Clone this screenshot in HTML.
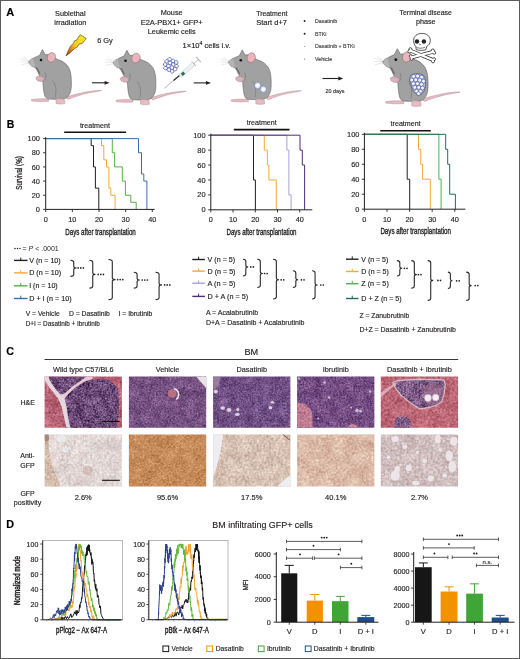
<!DOCTYPE html>
<html><head><meta charset="utf-8"><style>
html,body{margin:0;padding:0;background:#fff;}
svg{display:block;font-family:"Liberation Sans", sans-serif;will-change:transform;}
</style></head><body>
<svg width="520" height="659" viewBox="0 0 520 659">
<rect x="0.5" y="0.5" width="519" height="658" fill="#fff" stroke="#5a5a5a" stroke-width="1"/>
<text x="6.3" y="15.6" font-size="11" text-anchor="start" fill="#000" font-weight="bold" stroke="#000" stroke-width="0.15" >A</text>
<text x="6.7" y="127.8" font-size="10.5" text-anchor="start" fill="#000" font-weight="bold" stroke="#000" stroke-width="0.15" >B</text>
<text x="6.2" y="354.6" font-size="10.8" text-anchor="start" fill="#000" font-weight="bold" stroke="#000" stroke-width="0.15" >C</text>
<text x="6.2" y="528" font-size="10.8" text-anchor="start" fill="#000" font-weight="bold" stroke="#000" stroke-width="0.15" >D</text>
<text x="70.3" y="16" font-size="7.3" text-anchor="middle" fill="#1e1e1e" font-weight="normal" stroke="#1e1e1e" stroke-width="0.15" >Sublethal</text>
<text x="70.3" y="25" font-size="7.3" text-anchor="middle" fill="#1e1e1e" font-weight="normal" stroke="#1e1e1e" stroke-width="0.15" >irradiation</text>
<text x="97.2" y="43.3" font-size="7.4" text-anchor="start" fill="#1e1e1e" font-weight="normal" stroke="#1e1e1e" stroke-width="0.15" >6 Gy</text>
<text x="171.7" y="15.2" font-size="7.3" text-anchor="middle" fill="#1e1e1e" font-weight="normal" stroke="#1e1e1e" stroke-width="0.15" >Mouse</text>
<text x="171.7" y="24.6" font-size="7.3" text-anchor="middle" fill="#1e1e1e" font-weight="normal" textLength="62" lengthAdjust="spacingAndGlyphs" stroke="#1e1e1e" stroke-width="0.15" >E2A-PBX1+ GFP+</text>
<text x="171.7" y="33.8" font-size="7.3" text-anchor="middle" fill="#1e1e1e" font-weight="normal" stroke="#1e1e1e" stroke-width="0.15" >Leukemic cells</text>
<text x="182.6" y="48" font-size="7.5" fill="#1e1e1e" stroke="#1e1e1e" stroke-width="0.15">1×10<tspan dy="-2.8" font-size="5.2">4</tspan><tspan dy="2.8"> cells i.v.</tspan></text>
<text x="256.2" y="15.7" font-size="7.3" text-anchor="start" fill="#1e1e1e" font-weight="normal" textLength="31.2" lengthAdjust="spacingAndGlyphs" stroke="#1e1e1e" stroke-width="0.15" >Treatment</text>
<text x="256.2" y="24.9" font-size="7.3" text-anchor="start" fill="#1e1e1e" font-weight="normal" textLength="30.8" lengthAdjust="spacingAndGlyphs" stroke="#1e1e1e" stroke-width="0.15" >Start d+7</text>
<circle cx="304.6" cy="21" r="1.0" fill="#222"/>
<text x="315" y="22.9" font-size="5.3" text-anchor="start" fill="#444" font-weight="normal" stroke="#444" stroke-width="0.15" >Dasatinib</text>
<circle cx="304.6" cy="33.8" r="1.0" fill="#222"/>
<text x="315" y="35.699999999999996" font-size="5.3" text-anchor="start" fill="#444" font-weight="normal" stroke="#444" stroke-width="0.15" >BTKi</text>
<circle cx="304.6" cy="46.5" r="0.6" fill="#888"/>
<text x="315" y="48.4" font-size="5.3" text-anchor="start" fill="#444" font-weight="normal" stroke="#444" stroke-width="0.15" >Dasatinib + BTKi</text>
<circle cx="304.6" cy="59.2" r="0.6" fill="#888"/>
<text x="315" y="61.1" font-size="5.3" text-anchor="start" fill="#444" font-weight="normal" stroke="#444" stroke-width="0.15" >Vehicle</text>
<text x="425.7" y="15" font-size="7.2" text-anchor="middle" fill="#1e1e1e" font-weight="normal" textLength="52.5" lengthAdjust="spacingAndGlyphs" stroke="#1e1e1e" stroke-width="0.15" >Terminal disease</text>
<text x="425.7" y="24.2" font-size="7.2" text-anchor="middle" fill="#1e1e1e" font-weight="normal" stroke="#1e1e1e" stroke-width="0.15" >phase</text>
<text x="335" y="93.1" font-size="5.4" text-anchor="middle" fill="#333" font-weight="normal" stroke="#333" stroke-width="0.15" >20 days</text>
<line x1="91.9" y1="82.8" x2="105.6" y2="82.8" stroke="#222" stroke-width="1.1"/>
<path d="M104.6,80.89999999999999 L109.6,82.8 L104.6,84.7 Z" fill="#222"/>
<line x1="193.8" y1="82.9" x2="207" y2="82.9" stroke="#222" stroke-width="1.1"/>
<path d="M206,81.0 L211,82.9 L206,84.80000000000001 Z" fill="#222"/>
<line x1="322.5" y1="78.5" x2="339.3" y2="78.5" stroke="#222" stroke-width="1.1"/>
<path d="M338.3,76.6 L343.3,78.5 L338.3,80.4 Z" fill="#222"/>
<defs><g id="mouse">
<g>
 <path d="M66,97.2 C72,95.2 80,93 88,91.6 C94,90.7 99,90.3 101.6,90.5 C99,91.3 93,92.1 87,93.3 C80,94.9 73,97.4 68.3,99.4 Z" fill="#e6bcc4" stroke="#b08890" stroke-width="0.45"/>
 <path d="M31.5,99.6 C37,98.6 44,98.6 48.5,99.2 L48.5,101.3 C43,101.8 36,101.6 31.5,100.9 Z" fill="#e6bcc4" stroke="#b08890" stroke-width="0.45"/>
 <path d="M42.4,49.6 L45.3,54.8 C47,54.2 49,54.5 50.5,55.5 C54,57.5 57.5,59.8 60.9,60.6 C65,62.5 68.5,66 69.8,70 C71.2,74 71.6,80 71.3,87 C71,91.5 69.8,95 66.7,97.8 C63,99.8 58,99.8 55,99.2 C51,99.3 47.5,99.4 45.8,97.6 C44,95.5 43.2,88 43,82.5 C42,81 40.5,78 39,74.5 C38.2,72.5 37,70 35.5,67.8 C34.3,67 33,66.8 32,66.4 C30.5,65 29,63.5 28.6,61.8 C30,60 31.5,58.8 33.2,58.3 C35.5,57 37.5,56 39.5,55.4 Z" fill="#a0a1a0" stroke="#5c5c5c" stroke-width="0.55"/>
 <path d="M28.6,61.8 C30,60 31.5,58.8 33.2,58.3 C33.6,60.5 34.2,63 35.2,66.6 C33.8,66.9 32.6,66.7 32,66.4 C30.5,65 29,63.5 28.6,61.8 Z" fill="#b4b4b4"/>
 <path d="M35.6,67.6 C36.8,69.2 37.8,71.2 38.8,73.8 L40.3,73.4 C39.3,70.8 38.2,68.8 37,67.2 Z" fill="#6e6e6e"/>
 <path d="M45,72.5 C46.3,75.5 46.2,78.5 44.3,80.5 M52.5,80.5 C55.8,84 56.8,90 55.2,96.8" fill="none" stroke="#707070" stroke-width="0.55"/>
 <ellipse cx="51.4" cy="57.4" rx="4.1" ry="4.9" transform="rotate(18 51.4 57.4)" fill="#ebb4bc" stroke="#8a6a70" stroke-width="0.5"/>
 <circle cx="41" cy="60" r="1.3" fill="#111"/>
 <circle cx="28.9" cy="61.9" r="0.6" fill="#666"/>
 <path d="M36,77.3 C37.5,75.7 41,75.9 43.5,77.2 C44.8,78.5 44.3,80.8 42,81.3 C39.5,81.8 36.5,80.8 36,79 Z" fill="#dcb2ba" stroke="#a08088" stroke-width="0.45"/>
 <path d="M56,99 C59,98.5 62.5,98.8 64.5,99.8 L64.8,103.6 C61.5,104.3 58,104.2 56,103.4 Z" fill="#e6bcc4" stroke="#b08890" stroke-width="0.45"/>
 <path d="M29,61.5 L20.5,58.6 M29,62.2 L20.6,61.6 M29.2,63 L21,64.8 M29.8,61 L23,56.8" stroke="#d4d4d4" stroke-width="0.5" fill="none"/>
</g></g></defs>
<use href="#mouse"/>
<use href="#mouse" transform="translate(84.5,0.7)"/>
<use href="#mouse" transform="translate(199.8,0.3)"/>
<use href="#mouse" transform="translate(397.1,48.7) scale(1.06) translate(-42.2,-49.6)"/>
<defs><linearGradient id="bolt" x1="1" y1="0" x2="0" y2="1"><stop offset="0" stop-color="#f6ec30"/><stop offset="0.5" stop-color="#f0d020"/><stop offset="0.68" stop-color="#e8901c"/><stop offset="0.85" stop-color="#b85a18"/><stop offset="1" stop-color="#3a1a08"/></linearGradient></defs>
<path d="M66.06,55.91 L68.75,49.52 L70.77,45.81 L73.46,43.46 L74.47,40.77 L76.82,40.09 L78.51,37.07 L80.19,34.71 L86.24,38.41 L82.21,43.46 L79.18,44.13 L76.82,47.5 L74.47,48.5 L70.77,52.21 Z" fill="url(#bolt)" stroke="#6a5412" stroke-width="0.7" stroke-linejoin="round"/>
<g transform="translate(170.9,65.3) rotate(25)"><circle cx="-3.7" cy="-4.9" r="1.78" fill="#fff" stroke="#3a4aa8" stroke-width="0.62"/><circle cx="0" cy="-4.9" r="1.78" fill="#fff" stroke="#3a4aa8" stroke-width="0.62"/><circle cx="3.7" cy="-4.9" r="1.78" fill="#fff" stroke="#3a4aa8" stroke-width="0.62"/><circle cx="-5.55" cy="-1.65" r="1.78" fill="#fff" stroke="#3a4aa8" stroke-width="0.62"/><circle cx="-1.85" cy="-1.65" r="1.78" fill="#fff" stroke="#3a4aa8" stroke-width="0.62"/><circle cx="1.85" cy="-1.65" r="1.78" fill="#fff" stroke="#3a4aa8" stroke-width="0.62"/><circle cx="5.55" cy="-1.65" r="1.78" fill="#fff" stroke="#3a4aa8" stroke-width="0.62"/><circle cx="-5.55" cy="1.65" r="1.78" fill="#fff" stroke="#3a4aa8" stroke-width="0.62"/><circle cx="-1.85" cy="1.65" r="1.78" fill="#fff" stroke="#3a4aa8" stroke-width="0.62"/><circle cx="1.85" cy="1.65" r="1.78" fill="#fff" stroke="#3a4aa8" stroke-width="0.62"/><circle cx="5.55" cy="1.65" r="1.78" fill="#fff" stroke="#3a4aa8" stroke-width="0.62"/><circle cx="-3.7" cy="4.9" r="1.78" fill="#fff" stroke="#3a4aa8" stroke-width="0.62"/><circle cx="0" cy="4.9" r="1.78" fill="#fff" stroke="#3a4aa8" stroke-width="0.62"/><circle cx="3.7" cy="4.9" r="1.78" fill="#fff" stroke="#3a4aa8" stroke-width="0.62"/></g>
<g><line x1="164.1" y1="88.5" x2="175.5" y2="78.9" stroke="#777" stroke-width="0.5"/><line x1="173.5" y1="80.6" x2="179.5" y2="75.4" stroke="#333" stroke-width="1.3"/><path d="M179,74.6 L192.5,62.4 L195,65 L181.5,77.2 Z" fill="#eef3f0" stroke="#9aa" stroke-width="0.4"/><path d="M180.8,73.8 L183.2,71.6 L185.2,73.8 L182.8,76 Z" fill="#2f6f55"/><line x1="193.8" y1="63.6" x2="198" y2="59.8" stroke="#bbb" stroke-width="1"/><line x1="196" y1="56.8" x2="200.8" y2="62" stroke="#bbb" stroke-width="1.2"/><line x1="191.5" y1="61.3" x2="196" y2="66" stroke="#aaa" stroke-width="0.8"/></g>
<circle cx="257.6" cy="85.4" r="3.1" fill="#fff" stroke="#6a78c8" stroke-width="0.7"/>
<circle cx="257.6" cy="85.4" r="2.0" fill="#fff" stroke="#c8ccf0" stroke-width="0.5"/>
<circle cx="263.3" cy="89.2" r="3.1" fill="#fff" stroke="#6a78c8" stroke-width="0.7"/>
<circle cx="263.3" cy="89.2" r="2.0" fill="#fff" stroke="#c8ccf0" stroke-width="0.5"/>
<path d="M411,75.2 C414,73 420,73 423.5,75.5 C426,78 426,84 424.8,89 C423.5,93 421,95 418.5,94.8 C415.5,94.5 413,91 411.5,86.5 C409.8,82 409,78 411,75.2 Z" fill="#c0c6e8" stroke="#2c3a7a" stroke-width="0.6"/>
<circle cx="413.6" cy="76.4" r="1.95" fill="#f4f5ff" stroke="#2c3a80" stroke-width="0.5"/>
<circle cx="417.6" cy="76.1" r="1.95" fill="#f4f5ff" stroke="#2c3a80" stroke-width="0.5"/>
<circle cx="421.5" cy="77.2" r="1.95" fill="#f4f5ff" stroke="#2c3a80" stroke-width="0.5"/>
<circle cx="411.8" cy="80" r="1.95" fill="#f4f5ff" stroke="#2c3a80" stroke-width="0.5"/>
<circle cx="415.8" cy="79.8" r="1.95" fill="#f4f5ff" stroke="#2c3a80" stroke-width="0.5"/>
<circle cx="419.8" cy="80.2" r="1.95" fill="#f4f5ff" stroke="#2c3a80" stroke-width="0.5"/>
<circle cx="423.5" cy="81.2" r="1.95" fill="#f4f5ff" stroke="#2c3a80" stroke-width="0.5"/>
<circle cx="413.3" cy="83.7" r="1.95" fill="#f4f5ff" stroke="#2c3a80" stroke-width="0.5"/>
<circle cx="417.4" cy="83.6" r="1.95" fill="#f4f5ff" stroke="#2c3a80" stroke-width="0.5"/>
<circle cx="421.5" cy="84.4" r="1.95" fill="#f4f5ff" stroke="#2c3a80" stroke-width="0.5"/>
<circle cx="414.8" cy="87.4" r="1.95" fill="#f4f5ff" stroke="#2c3a80" stroke-width="0.5"/>
<circle cx="418.8" cy="87.4" r="1.95" fill="#f4f5ff" stroke="#2c3a80" stroke-width="0.5"/>
<circle cx="422.5" cy="88" r="1.95" fill="#f4f5ff" stroke="#2c3a80" stroke-width="0.5"/>
<circle cx="416.6" cy="91.2" r="1.95" fill="#f4f5ff" stroke="#2c3a80" stroke-width="0.5"/>
<circle cx="420.4" cy="91.4" r="1.95" fill="#f4f5ff" stroke="#2c3a80" stroke-width="0.5"/>
<circle cx="418.6" cy="93.6" r="1.95" fill="#f4f5ff" stroke="#2c3a80" stroke-width="0.5"/>
<g stroke="#222" stroke-width="0.75" fill="#fff"><path d="M410.4,50.6 L433,60" stroke-width="3.6" stroke="#222" stroke-linecap="round"/><path d="M411.6,57.4 L433.2,51.8" stroke-width="3.6" stroke="#222" stroke-linecap="round"/><circle cx="410.4" cy="49.2" r="1.5"/><circle cx="409.4" cy="51.4" r="1.5"/><circle cx="434" cy="59.2" r="1.5"/><circle cx="433" cy="61.4" r="1.5"/><circle cx="410.8" cy="56.2" r="1.5"/><circle cx="411.6" cy="58.8" r="1.5"/><circle cx="432.8" cy="50.4" r="1.5"/><circle cx="434.2" cy="52.8" r="1.5"/><path d="M410.4,50.6 L433,60" stroke-width="2.3" stroke="#fff" stroke-linecap="round"/><path d="M411.6,57.4 L433.2,51.8" stroke-width="2.3" stroke="#fff" stroke-linecap="round"/><path d="M413.6,40.6 C413.6,36 417.3,33.4 421.9,33.4 C426.5,33.4 430.3,36 430.3,40.6 C430.3,43.6 428.6,45.4 426.6,46.4 L426,49.6 C424,50.6 418.2,50.6 416.2,49.6 L415.8,46.2 C414.6,45.2 413.6,43.5 413.6,40.6 Z"/></g>
<circle cx="417" cy="41.5" r="2.2" fill="#222"/><circle cx="423.9" cy="41.5" r="2.2" fill="#222"/><circle cx="420" cy="44.6" r="0.7" fill="#222"/>
<path d="M416.5,47.6 C419,48.4 422,48.4 425,47.4" stroke="#222" stroke-width="0.6" fill="none"/>
<path d="M45.7,138.6 L91.2,138.60 L91.2,145.68 L93.5,145.68 L93.5,166.92 L95.4,166.92 L95.4,188.16 L98.8,188.16 L98.8,209.40" fill="none" stroke="#231f20" stroke-width="1"/>
<path d="M45.7,138.6 L101.5,138.60 L101.5,145.68 L103.8,145.68 L103.8,159.84 L106.5,159.84 L106.5,166.92 L108.9,166.92 L108.9,188.16 L110.8,188.16 L110.8,195.24 L115.1,195.24 L115.1,209.40" fill="none" stroke="#f5a838" stroke-width="1"/>
<path d="M45.7,138.6 L112.3,138.60 L112.3,152.76 L114.6,152.76 L114.6,166.92 L122.3,166.92 L122.3,181.08 L125.4,181.08 L125.4,195.24 L130.8,195.24 L130.8,202.32 L136.2,202.32 L136.2,209.40" fill="none" stroke="#55b047" stroke-width="1"/>
<path d="M45.7,138.6 L138.5,138.60 L138.5,152.76 L141.5,152.76 L141.5,174.00 L143.8,174.00 L143.8,181.08 L146.9,181.08 L146.9,209.40" fill="none" stroke="#3a6ea8" stroke-width="1"/>
<line x1="45.7" y1="137.1" x2="45.7" y2="209.4" stroke="#231f20" stroke-width="1"/>
<line x1="45.7" y1="209.4" x2="154.6" y2="209.4" stroke="#231f20" stroke-width="1"/>
<line x1="43.1" y1="209.4" x2="45.7" y2="209.4" stroke="#231f20" stroke-width="0.9"/>
<text x="39.9" y="212.0" font-size="7.4" text-anchor="end" fill="#231f20" font-weight="normal" stroke="#231f20" stroke-width="0.15" >0</text>
<line x1="43.1" y1="195.24" x2="45.7" y2="195.24" stroke="#231f20" stroke-width="0.9"/>
<text x="39.9" y="197.84" font-size="7.4" text-anchor="end" fill="#231f20" font-weight="normal" stroke="#231f20" stroke-width="0.15" >20</text>
<line x1="43.1" y1="181.08" x2="45.7" y2="181.08" stroke="#231f20" stroke-width="0.9"/>
<text x="39.9" y="183.68" font-size="7.4" text-anchor="end" fill="#231f20" font-weight="normal" stroke="#231f20" stroke-width="0.15" >40</text>
<line x1="43.1" y1="166.92000000000002" x2="45.7" y2="166.92000000000002" stroke="#231f20" stroke-width="0.9"/>
<text x="39.9" y="169.52" font-size="7.4" text-anchor="end" fill="#231f20" font-weight="normal" stroke="#231f20" stroke-width="0.15" >60</text>
<line x1="43.1" y1="152.76" x2="45.7" y2="152.76" stroke="#231f20" stroke-width="0.9"/>
<text x="39.9" y="155.35999999999999" font-size="7.4" text-anchor="end" fill="#231f20" font-weight="normal" stroke="#231f20" stroke-width="0.15" >80</text>
<line x1="43.1" y1="138.6" x2="45.7" y2="138.6" stroke="#231f20" stroke-width="0.9"/>
<text x="39.9" y="141.2" font-size="7.4" text-anchor="end" fill="#231f20" font-weight="normal" stroke="#231f20" stroke-width="0.15" >100</text>
<line x1="45.7" y1="209.4" x2="45.7" y2="212.0" stroke="#231f20" stroke-width="0.9"/>
<text x="45.7" y="221.8" font-size="7.3" text-anchor="middle" fill="#231f20" font-weight="normal" stroke="#231f20" stroke-width="0.15" >0</text>
<line x1="72.35" y1="209.4" x2="72.35" y2="212.0" stroke="#231f20" stroke-width="0.9"/>
<text x="72.35" y="221.8" font-size="7.3" text-anchor="middle" fill="#231f20" font-weight="normal" stroke="#231f20" stroke-width="0.15" >10</text>
<line x1="99.0" y1="209.4" x2="99.0" y2="212.0" stroke="#231f20" stroke-width="0.9"/>
<text x="99.0" y="221.8" font-size="7.3" text-anchor="middle" fill="#231f20" font-weight="normal" stroke="#231f20" stroke-width="0.15" >20</text>
<line x1="125.64999999999999" y1="209.4" x2="125.64999999999999" y2="212.0" stroke="#231f20" stroke-width="0.9"/>
<text x="125.64999999999999" y="221.8" font-size="7.3" text-anchor="middle" fill="#231f20" font-weight="normal" stroke="#231f20" stroke-width="0.15" >30</text>
<line x1="152.3" y1="209.4" x2="152.3" y2="212.0" stroke="#231f20" stroke-width="0.9"/>
<text x="152.3" y="221.8" font-size="7.3" text-anchor="middle" fill="#231f20" font-weight="normal" stroke="#231f20" stroke-width="0.15" >40</text>
<line x1="64.2" y1="132.2" x2="126.1" y2="132.2" stroke="#111" stroke-width="1.6"/>
<text x="94.9" y="127.6" font-size="7.1" text-anchor="middle" fill="#231f20" font-weight="normal" textLength="30" lengthAdjust="spacingAndGlyphs" stroke="#231f20" stroke-width="0.15" >treatment</text>
<text x="65.3" y="235" font-size="8.7" text-anchor="start" fill="#231f20" font-weight="normal" textLength="70.5" lengthAdjust="spacingAndGlyphs" stroke="#231f20" stroke-width="0.35" >Days after transplantation</text>
<text transform="translate(22,173) rotate(-90)" font-size="8.4" text-anchor="middle" fill="#231f20" stroke="#231f20" stroke-width="0.3" textLength="33.4" lengthAdjust="spacingAndGlyphs">Survival (%)</text>
<path d="M210.8,135.2 L253.5,135.20 L253.5,179.96 L255.4,179.96 L255.4,209.80" fill="none" stroke="#231f20" stroke-width="1"/>
<path d="M210.8,135.2 L264.3,135.20 L264.3,150.12 L267.4,150.12 L267.4,165.04 L268.9,165.04 L268.9,179.96 L276.3,179.96 L276.3,209.80" fill="none" stroke="#f5a838" stroke-width="1"/>
<path d="M210.8,135.2 L286.9,135.20 L286.9,150.12 L288.9,150.12 L288.9,194.88 L291.1,194.88 L291.1,209.80" fill="none" stroke="#a7a2db" stroke-width="1"/>
<path d="M210.8,135.2 L300,135.20 L300,150.12 L302.3,150.12 L302.3,165.04 L304.6,165.04 L304.6,209.80" fill="none" stroke="#4f2d75" stroke-width="1"/>
<line x1="210.8" y1="133.7" x2="210.8" y2="209.8" stroke="#231f20" stroke-width="1"/>
<line x1="210.8" y1="209.8" x2="312.3" y2="209.8" stroke="#231f20" stroke-width="1"/>
<line x1="208.20000000000002" y1="209.8" x2="210.8" y2="209.8" stroke="#231f20" stroke-width="0.9"/>
<text x="205.6" y="212.4" font-size="7.4" text-anchor="end" fill="#231f20" font-weight="normal" stroke="#231f20" stroke-width="0.15" >0</text>
<line x1="208.20000000000002" y1="194.88" x2="210.8" y2="194.88" stroke="#231f20" stroke-width="0.9"/>
<text x="205.6" y="197.48" font-size="7.4" text-anchor="end" fill="#231f20" font-weight="normal" stroke="#231f20" stroke-width="0.15" >20</text>
<line x1="208.20000000000002" y1="179.96" x2="210.8" y2="179.96" stroke="#231f20" stroke-width="0.9"/>
<text x="205.6" y="182.56" font-size="7.4" text-anchor="end" fill="#231f20" font-weight="normal" stroke="#231f20" stroke-width="0.15" >40</text>
<line x1="208.20000000000002" y1="165.04" x2="210.8" y2="165.04" stroke="#231f20" stroke-width="0.9"/>
<text x="205.6" y="167.64" font-size="7.4" text-anchor="end" fill="#231f20" font-weight="normal" stroke="#231f20" stroke-width="0.15" >60</text>
<line x1="208.20000000000002" y1="150.12" x2="210.8" y2="150.12" stroke="#231f20" stroke-width="0.9"/>
<text x="205.6" y="152.72" font-size="7.4" text-anchor="end" fill="#231f20" font-weight="normal" stroke="#231f20" stroke-width="0.15" >80</text>
<line x1="208.20000000000002" y1="135.2" x2="210.8" y2="135.2" stroke="#231f20" stroke-width="0.9"/>
<text x="205.6" y="137.79999999999998" font-size="7.4" text-anchor="end" fill="#231f20" font-weight="normal" stroke="#231f20" stroke-width="0.15" >100</text>
<line x1="210.8" y1="209.8" x2="210.8" y2="212.4" stroke="#231f20" stroke-width="0.9"/>
<text x="210.8" y="222.20000000000002" font-size="7.3" text-anchor="middle" fill="#231f20" font-weight="normal" stroke="#231f20" stroke-width="0.15" >0</text>
<line x1="233.03" y1="209.8" x2="233.03" y2="212.4" stroke="#231f20" stroke-width="0.9"/>
<text x="233.03" y="222.20000000000002" font-size="7.3" text-anchor="middle" fill="#231f20" font-weight="normal" stroke="#231f20" stroke-width="0.15" >10</text>
<line x1="255.26000000000002" y1="209.8" x2="255.26000000000002" y2="212.4" stroke="#231f20" stroke-width="0.9"/>
<text x="255.26000000000002" y="222.20000000000002" font-size="7.3" text-anchor="middle" fill="#231f20" font-weight="normal" stroke="#231f20" stroke-width="0.15" >20</text>
<line x1="277.49" y1="209.8" x2="277.49" y2="212.4" stroke="#231f20" stroke-width="0.9"/>
<text x="277.49" y="222.20000000000002" font-size="7.3" text-anchor="middle" fill="#231f20" font-weight="normal" stroke="#231f20" stroke-width="0.15" >30</text>
<line x1="299.72" y1="209.8" x2="299.72" y2="212.4" stroke="#231f20" stroke-width="0.9"/>
<text x="299.72" y="222.20000000000002" font-size="7.3" text-anchor="middle" fill="#231f20" font-weight="normal" stroke="#231f20" stroke-width="0.15" >40</text>
<line x1="233.8" y1="129.6" x2="289.5" y2="129.6" stroke="#111" stroke-width="1.6"/>
<text x="261.7" y="124.6" font-size="7.1" text-anchor="middle" fill="#231f20" font-weight="normal" textLength="30" lengthAdjust="spacingAndGlyphs" stroke="#231f20" stroke-width="0.15" >treatment</text>
<text x="226.5" y="235.3" font-size="8.7" text-anchor="start" fill="#231f20" font-weight="normal" textLength="70" lengthAdjust="spacingAndGlyphs" stroke="#231f20" stroke-width="0.35" >Days after transplantation</text>
<path d="M364.4,134.3 L407.2,134.30 L407.2,179.24 L409.7,179.24 L409.7,209.20" fill="none" stroke="#231f20" stroke-width="1"/>
<path d="M364.4,134.3 L418.5,134.30 L418.5,149.28 L420.8,149.28 L420.8,164.26 L422.6,164.26 L422.6,179.24 L430.3,179.24 L430.3,209.20" fill="none" stroke="#f5a838" stroke-width="1"/>
<path d="M364.4,134.3 L438.9,134.30 L438.9,179.24 L441.1,179.24 L441.1,209.20" fill="none" stroke="#4fb04f" stroke-width="1"/>
<path d="M364.4,134.3 L445.7,134.30 L445.7,149.28 L447.7,149.28 L447.7,164.26 L449.7,164.26 L449.7,194.22 L455.4,194.22 L455.4,209.20" fill="none" stroke="#256b5f" stroke-width="1"/>
<line x1="364.4" y1="132.8" x2="364.4" y2="209.2" stroke="#231f20" stroke-width="1"/>
<line x1="364.4" y1="209.2" x2="465.4" y2="209.2" stroke="#231f20" stroke-width="1"/>
<line x1="361.79999999999995" y1="209.2" x2="364.4" y2="209.2" stroke="#231f20" stroke-width="0.9"/>
<text x="359.4" y="211.79999999999998" font-size="7.4" text-anchor="end" fill="#231f20" font-weight="normal" stroke="#231f20" stroke-width="0.15" >0</text>
<line x1="361.79999999999995" y1="194.22" x2="364.4" y2="194.22" stroke="#231f20" stroke-width="0.9"/>
<text x="359.4" y="196.82" font-size="7.4" text-anchor="end" fill="#231f20" font-weight="normal" stroke="#231f20" stroke-width="0.15" >20</text>
<line x1="361.79999999999995" y1="179.24" x2="364.4" y2="179.24" stroke="#231f20" stroke-width="0.9"/>
<text x="359.4" y="181.84" font-size="7.4" text-anchor="end" fill="#231f20" font-weight="normal" stroke="#231f20" stroke-width="0.15" >40</text>
<line x1="361.79999999999995" y1="164.26" x2="364.4" y2="164.26" stroke="#231f20" stroke-width="0.9"/>
<text x="359.4" y="166.85999999999999" font-size="7.4" text-anchor="end" fill="#231f20" font-weight="normal" stroke="#231f20" stroke-width="0.15" >60</text>
<line x1="361.79999999999995" y1="149.28" x2="364.4" y2="149.28" stroke="#231f20" stroke-width="0.9"/>
<text x="359.4" y="151.88" font-size="7.4" text-anchor="end" fill="#231f20" font-weight="normal" stroke="#231f20" stroke-width="0.15" >80</text>
<line x1="361.79999999999995" y1="134.3" x2="364.4" y2="134.3" stroke="#231f20" stroke-width="0.9"/>
<text x="359.4" y="136.9" font-size="7.4" text-anchor="end" fill="#231f20" font-weight="normal" stroke="#231f20" stroke-width="0.15" >100</text>
<line x1="364.4" y1="209.2" x2="364.4" y2="211.79999999999998" stroke="#231f20" stroke-width="0.9"/>
<text x="364.4" y="221.6" font-size="7.3" text-anchor="middle" fill="#231f20" font-weight="normal" stroke="#231f20" stroke-width="0.15" >0</text>
<line x1="387.0" y1="209.2" x2="387.0" y2="211.79999999999998" stroke="#231f20" stroke-width="0.9"/>
<text x="387.0" y="221.6" font-size="7.3" text-anchor="middle" fill="#231f20" font-weight="normal" stroke="#231f20" stroke-width="0.15" >10</text>
<line x1="409.59999999999997" y1="209.2" x2="409.59999999999997" y2="211.79999999999998" stroke="#231f20" stroke-width="0.9"/>
<text x="409.59999999999997" y="221.6" font-size="7.3" text-anchor="middle" fill="#231f20" font-weight="normal" stroke="#231f20" stroke-width="0.15" >20</text>
<line x1="432.2" y1="209.2" x2="432.2" y2="211.79999999999998" stroke="#231f20" stroke-width="0.9"/>
<text x="432.2" y="221.6" font-size="7.3" text-anchor="middle" fill="#231f20" font-weight="normal" stroke="#231f20" stroke-width="0.15" >30</text>
<line x1="454.79999999999995" y1="209.2" x2="454.79999999999995" y2="211.79999999999998" stroke="#231f20" stroke-width="0.9"/>
<text x="454.79999999999995" y="221.6" font-size="7.3" text-anchor="middle" fill="#231f20" font-weight="normal" stroke="#231f20" stroke-width="0.15" >40</text>
<line x1="380.3" y1="130.8" x2="430.8" y2="130.8" stroke="#111" stroke-width="1.6"/>
<text x="405.6" y="125.8" font-size="7.1" text-anchor="middle" fill="#231f20" font-weight="normal" textLength="30" lengthAdjust="spacingAndGlyphs" stroke="#231f20" stroke-width="0.15" >treatment</text>
<text x="380.4" y="234.4" font-size="8.7" text-anchor="start" fill="#231f20" font-weight="normal" textLength="70.5" lengthAdjust="spacingAndGlyphs" stroke="#231f20" stroke-width="0.35" >Days after transplantation</text>
<text x="22.5" y="250.9" font-size="7" fill="#231f20">= <tspan font-style="italic">P</tspan> &lt; .0001</text>
<circle cx="15.00" cy="248.6" r="0.75" fill="#1e1e1e"/>
<circle cx="17.50" cy="248.6" r="0.75" fill="#1e1e1e"/>
<circle cx="20.00" cy="248.6" r="0.75" fill="#1e1e1e"/>
<line x1="14" y1="260.4" x2="27.5" y2="260.4" stroke="#231f20" stroke-width="1.4"/>
<line x1="20.75" y1="257.59999999999997" x2="20.75" y2="260.4" stroke="#231f20" stroke-width="1.0"/>
<text x="29.2" y="262.80" font-size="7.1" fill="#231f20" stroke="#231f20" stroke-width="0.15" textLength="31.5" lengthAdjust="spacingAndGlyphs">V (n = 10)</text>
<line x1="14" y1="272.9" x2="27.5" y2="272.9" stroke="#f5a838" stroke-width="1.4"/>
<line x1="20.75" y1="270.09999999999997" x2="20.75" y2="272.9" stroke="#f5a838" stroke-width="1.0"/>
<text x="29.2" y="275.30" font-size="7.1" fill="#231f20" stroke="#231f20" stroke-width="0.15" textLength="32" lengthAdjust="spacingAndGlyphs">D (n = 10)</text>
<line x1="14" y1="285.8" x2="27.5" y2="285.8" stroke="#55b047" stroke-width="1.4"/>
<line x1="20.75" y1="283.0" x2="20.75" y2="285.8" stroke="#55b047" stroke-width="1.0"/>
<text x="29.2" y="288.20" font-size="7.1" fill="#231f20" stroke="#231f20" stroke-width="0.15" textLength="28.5" lengthAdjust="spacingAndGlyphs">I (n = 10)</text>
<line x1="14" y1="298.5" x2="27.5" y2="298.5" stroke="#3a6ea8" stroke-width="1.4"/>
<line x1="20.75" y1="295.7" x2="20.75" y2="298.5" stroke="#3a6ea8" stroke-width="1.0"/>
<text x="29.2" y="300.90" font-size="7.1" fill="#231f20" stroke="#231f20" stroke-width="0.15" textLength="42.4" lengthAdjust="spacingAndGlyphs">D + I (n = 10)</text>
<path d="M70.4,260.3 Q73.75500000000001,260.3 73.75500000000001,262.5 L73.75500000000001,266.14 Q73.75500000000001,267.9 76.5,267.9 Q73.75500000000001,267.9 73.75500000000001,269.65999999999997 L73.75500000000001,274.2 Q73.75500000000001,276.4 70.4,276.4" fill="none" stroke="#2a2a2a" stroke-width="1.1"/>
<circle cx="78.20" cy="267.9" r="0.85" fill="#1e1e1e"/>
<circle cx="80.80" cy="267.9" r="0.85" fill="#1e1e1e"/>
<circle cx="83.40" cy="267.9" r="0.85" fill="#1e1e1e"/>
<path d="M89.4,260.3 Q92.75500000000001,260.3 92.75500000000001,262.5 L92.75500000000001,272.64 Q92.75500000000001,274.4 95.5,274.4 Q92.75500000000001,274.4 92.75500000000001,276.15999999999997 L92.75500000000001,285.90000000000003 Q92.75500000000001,288.1 89.4,288.1" fill="none" stroke="#2a2a2a" stroke-width="1.1"/>
<circle cx="98.20" cy="274.4" r="0.85" fill="#1e1e1e"/>
<circle cx="100.80" cy="274.4" r="0.85" fill="#1e1e1e"/>
<circle cx="103.40" cy="274.4" r="0.85" fill="#1e1e1e"/>
<path d="M108.4,259.5 Q112.305,259.5 112.305,261.7 L112.305,277.84000000000003 Q112.305,279.6 115.5,279.6 Q112.305,279.6 112.305,281.36 L112.305,297.5 Q112.305,299.7 108.4,299.7" fill="none" stroke="#2a2a2a" stroke-width="1.1"/>
<circle cx="117.60" cy="279.6" r="0.85" fill="#1e1e1e"/>
<circle cx="120.20" cy="279.6" r="0.85" fill="#1e1e1e"/>
<circle cx="122.80" cy="279.6" r="0.85" fill="#1e1e1e"/>
<path d="M133.8,272.2 Q137.10000000000002,272.2 137.10000000000002,274.4 L137.10000000000002,278.24 Q137.10000000000002,280 139.8,280 Q137.10000000000002,280 137.10000000000002,281.76 L137.10000000000002,285.90000000000003 Q137.10000000000002,288.1 133.8,288.1" fill="none" stroke="#2a2a2a" stroke-width="1.1"/>
<circle cx="142.20" cy="280" r="0.85" fill="#1e1e1e"/>
<circle cx="144.80" cy="280" r="0.85" fill="#1e1e1e"/>
<circle cx="147.40" cy="280" r="0.85" fill="#1e1e1e"/>
<path d="M155.5,272.2 Q159.075,272.2 159.075,274.4 L159.075,283.14 Q159.075,284.9 162,284.9 Q159.075,284.9 159.075,286.65999999999997 L159.075,297.5 Q159.075,299.7 155.5,299.7" fill="none" stroke="#2a2a2a" stroke-width="1.1"/>
<circle cx="164.60" cy="284.9" r="0.85" fill="#1e1e1e"/>
<circle cx="167.20" cy="284.9" r="0.85" fill="#1e1e1e"/>
<circle cx="169.80" cy="284.9" r="0.85" fill="#1e1e1e"/>
<text x="25.7" y="315.7" font-size="6.8" text-anchor="start" fill="#231f20" font-weight="normal" textLength="34" lengthAdjust="spacingAndGlyphs" stroke="#231f20" stroke-width="0.15" >V = Vehicle</text>
<text x="68.9" y="315.7" font-size="6.8" text-anchor="start" fill="#231f20" font-weight="normal" textLength="40.9" lengthAdjust="spacingAndGlyphs" stroke="#231f20" stroke-width="0.15" >D = Dasatinib</text>
<text x="118.5" y="315.7" font-size="6.8" text-anchor="start" fill="#231f20" font-weight="normal" stroke="#231f20" stroke-width="0.15" >I = Ibrutinib</text>
<text x="25.7" y="325.9" font-size="6.8" text-anchor="start" fill="#231f20" font-weight="normal" textLength="74" lengthAdjust="spacingAndGlyphs" stroke="#231f20" stroke-width="0.15" >D+I = Dasatinib + Ibrutinib</text>
<line x1="192.3" y1="259.5" x2="204.9" y2="259.5" stroke="#231f20" stroke-width="1.4"/>
<line x1="198.60000000000002" y1="256.7" x2="198.60000000000002" y2="259.5" stroke="#231f20" stroke-width="1.0"/>
<text x="207.5" y="261.90" font-size="7.1" fill="#231f20" stroke="#231f20" stroke-width="0.15" textLength="27.7" lengthAdjust="spacingAndGlyphs">V (n = 5)</text>
<line x1="192.3" y1="271.1" x2="204.9" y2="271.1" stroke="#f5a838" stroke-width="1.4"/>
<line x1="198.60000000000002" y1="268.3" x2="198.60000000000002" y2="271.1" stroke="#f5a838" stroke-width="1.0"/>
<text x="207.5" y="273.50" font-size="7.1" fill="#231f20" stroke="#231f20" stroke-width="0.15" textLength="28" lengthAdjust="spacingAndGlyphs">D (n = 5)</text>
<line x1="192.3" y1="283.2" x2="204.9" y2="283.2" stroke="#a7a2db" stroke-width="1.4"/>
<line x1="198.60000000000002" y1="280.4" x2="198.60000000000002" y2="283.2" stroke="#a7a2db" stroke-width="1.0"/>
<text x="207.5" y="285.60" font-size="7.1" fill="#231f20" stroke="#231f20" stroke-width="0.15" textLength="28" lengthAdjust="spacingAndGlyphs">A (n = 5)</text>
<line x1="192.3" y1="296.4" x2="204.9" y2="296.4" stroke="#4f2d75" stroke-width="1.4"/>
<line x1="198.60000000000002" y1="293.59999999999997" x2="198.60000000000002" y2="296.4" stroke="#4f2d75" stroke-width="1.0"/>
<text x="207.5" y="298.80" font-size="7.1" fill="#231f20" stroke="#231f20" stroke-width="0.15" textLength="40.6" lengthAdjust="spacingAndGlyphs">D + A (n = 5)</text>
<path d="M242.9,259.2 Q245.815,259.2 245.815,261.4 L245.815,265.14 Q245.815,266.9 248.2,266.9 Q245.815,266.9 245.815,268.65999999999997 L245.815,273.8 Q245.815,276 242.9,276" fill="none" stroke="#2a2a2a" stroke-width="1.1"/>
<circle cx="250.80" cy="266.9" r="0.85" fill="#1e1e1e"/>
<circle cx="253.40" cy="266.9" r="0.85" fill="#1e1e1e"/>
<path d="M257.3,259.2 Q260.325,259.2 260.325,261.4 L260.325,271.74 Q260.325,273.5 262.8,273.5 Q260.325,273.5 260.325,275.26 L260.325,285.3 Q260.325,287.5 257.3,287.5" fill="none" stroke="#2a2a2a" stroke-width="1.1"/>
<circle cx="264.60" cy="273.5" r="0.85" fill="#1e1e1e"/>
<circle cx="267.20" cy="273.5" r="0.85" fill="#1e1e1e"/>
<path d="M273.1,259.2 Q276.345,259.2 276.345,261.4 L276.345,278.04 Q276.345,279.8 279,279.8 Q276.345,279.8 276.345,281.56 L276.345,296.8 Q276.345,299 273.1,299" fill="none" stroke="#2a2a2a" stroke-width="1.1"/>
<circle cx="281.20" cy="279.8" r="0.85" fill="#1e1e1e"/>
<circle cx="283.80" cy="279.8" r="0.85" fill="#1e1e1e"/>
<path d="M292.9,270.8 Q295.815,270.8 295.815,273.0 L295.815,278.04 Q295.815,279.8 298.2,279.8 Q295.815,279.8 295.815,281.56 L295.815,285.3 Q295.815,287.5 292.9,287.5" fill="none" stroke="#2a2a2a" stroke-width="1.1"/>
<circle cx="301.40" cy="279.8" r="0.85" fill="#1e1e1e"/>
<circle cx="304.00" cy="279.8" r="0.85" fill="#1e1e1e"/>
<path d="M312.1,270.8 Q315.07,270.8 315.07,273.0 L315.07,283.24 Q315.07,285 317.5,285 Q315.07,285 315.07,286.76 L315.07,296.8 Q315.07,299 312.1,299" fill="none" stroke="#2a2a2a" stroke-width="1.1"/>
<circle cx="320.80" cy="285" r="0.85" fill="#1e1e1e"/>
<circle cx="323.40" cy="285" r="0.85" fill="#1e1e1e"/>
<text x="205.9" y="315.4" font-size="6.9" text-anchor="start" fill="#231f20" font-weight="normal" textLength="52.3" lengthAdjust="spacingAndGlyphs" stroke="#231f20" stroke-width="0.15" >A = Acalabrutinib</text>
<text x="205.9" y="325.2" font-size="6.9" text-anchor="start" fill="#231f20" font-weight="normal" textLength="98.5" lengthAdjust="spacingAndGlyphs" stroke="#231f20" stroke-width="0.15" >D+A = Dasatinib + Acalabrutinib</text>
<line x1="346" y1="259.2" x2="358.5" y2="259.2" stroke="#231f20" stroke-width="1.4"/>
<line x1="352.25" y1="256.4" x2="352.25" y2="259.2" stroke="#231f20" stroke-width="1.0"/>
<text x="361.3" y="261.60" font-size="7.1" fill="#231f20" stroke="#231f20" stroke-width="0.15" textLength="27" lengthAdjust="spacingAndGlyphs">V (n = 5)</text>
<line x1="346" y1="271.5" x2="358.5" y2="271.5" stroke="#f5a838" stroke-width="1.4"/>
<line x1="352.25" y1="268.7" x2="352.25" y2="271.5" stroke="#f5a838" stroke-width="1.0"/>
<text x="361.3" y="273.90" font-size="7.1" fill="#231f20" stroke="#231f20" stroke-width="0.15" textLength="27.5" lengthAdjust="spacingAndGlyphs">D (n = 5)</text>
<line x1="346" y1="283.7" x2="358.5" y2="283.7" stroke="#4fb04f" stroke-width="1.4"/>
<line x1="352.25" y1="280.9" x2="352.25" y2="283.7" stroke="#4fb04f" stroke-width="1.0"/>
<text x="361.3" y="286.10" font-size="7.1" fill="#231f20" stroke="#231f20" stroke-width="0.15" textLength="27.5" lengthAdjust="spacingAndGlyphs">Z (n = 5)</text>
<line x1="346" y1="298.5" x2="358.5" y2="298.5" stroke="#256b5f" stroke-width="1.4"/>
<line x1="352.25" y1="295.7" x2="352.25" y2="298.5" stroke="#256b5f" stroke-width="1.0"/>
<text x="361.3" y="300.90" font-size="7.1" fill="#231f20" stroke="#231f20" stroke-width="0.15" textLength="40.4" lengthAdjust="spacingAndGlyphs">D + Z (n = 5)</text>
<path d="M396.9,260.6 Q399.815,260.6 399.815,262.8 L399.815,266.54 Q399.815,268.3 402.2,268.3 Q399.815,268.3 399.815,270.06 L399.815,273.8 Q399.815,276 396.9,276" fill="none" stroke="#2a2a2a" stroke-width="1.1"/>
<circle cx="404.40" cy="268.3" r="0.85" fill="#1e1e1e"/>
<circle cx="407.00" cy="268.3" r="0.85" fill="#1e1e1e"/>
<path d="M411.3,260.6 Q414.325,260.6 414.325,262.8 L414.325,272.84000000000003 Q414.325,274.6 416.8,274.6 Q414.325,274.6 414.325,276.36 L414.325,285.90000000000003 Q414.325,288.1 411.3,288.1" fill="none" stroke="#2a2a2a" stroke-width="1.1"/>
<circle cx="418.40" cy="274.6" r="0.85" fill="#1e1e1e"/>
<circle cx="421.00" cy="274.6" r="0.85" fill="#1e1e1e"/>
<path d="M427.7,260.6 Q430.72499999999997,260.6 430.72499999999997,262.8 L430.72499999999997,278.64 Q430.72499999999997,280.4 433.2,280.4 Q430.72499999999997,280.4 430.72499999999997,282.15999999999997 L430.72499999999997,298.2 Q430.72499999999997,300.4 427.7,300.4" fill="none" stroke="#2a2a2a" stroke-width="1.1"/>
<circle cx="437.90" cy="280.4" r="0.85" fill="#1e1e1e"/>
<circle cx="440.50" cy="280.4" r="0.85" fill="#1e1e1e"/>
<path d="M447.9,272.1 Q450.375,272.1 450.375,274.3 L450.375,279.04 Q450.375,280.8 452.4,280.8 Q450.375,280.8 450.375,282.56 L450.375,286.3 Q450.375,288.5 447.9,288.5" fill="none" stroke="#2a2a2a" stroke-width="1.1"/>
<circle cx="456.60" cy="280.8" r="0.85" fill="#1e1e1e"/>
<circle cx="459.20" cy="280.8" r="0.85" fill="#1e1e1e"/>
<path d="M466.2,272.1 Q469.17,272.1 469.17,274.3 L469.17,283.84000000000003 Q469.17,285.6 471.6,285.6 Q469.17,285.6 469.17,287.36 L469.17,298.2 Q469.17,300.4 466.2,300.4" fill="none" stroke="#2a2a2a" stroke-width="1.1"/>
<circle cx="475.20" cy="285.6" r="0.85" fill="#1e1e1e"/>
<circle cx="477.80" cy="285.6" r="0.85" fill="#1e1e1e"/>
<text x="359.4" y="317.8" font-size="6.9" text-anchor="start" fill="#231f20" font-weight="normal" textLength="49.8" lengthAdjust="spacingAndGlyphs" stroke="#231f20" stroke-width="0.15" >Z = Zanubrutinib</text>
<text x="359.4" y="331.9" font-size="6.9" text-anchor="start" fill="#231f20" font-weight="normal" textLength="96.5" lengthAdjust="spacingAndGlyphs" stroke="#231f20" stroke-width="0.15" >D+Z = Dasatinib + Zanubrutinib</text>
<text x="251.3" y="354.8" font-size="9.2" text-anchor="middle" fill="#231f20" font-weight="normal" stroke="#231f20" stroke-width="0.15" >BM</text>
<line x1="44.5" y1="359.5" x2="458.2" y2="359.5" stroke="#231f20" stroke-width="0.9"/>
<text x="83.25" y="371.8" font-size="7.3" text-anchor="middle" fill="#231f20" font-weight="normal" stroke="#231f20" stroke-width="0.15" >Wild type C57/BL6</text>
<text x="167.55" y="371.8" font-size="7.3" text-anchor="middle" fill="#231f20" font-weight="normal" stroke="#231f20" stroke-width="0.15" >Vehicle</text>
<text x="251.75" y="371.8" font-size="7.3" text-anchor="middle" fill="#231f20" font-weight="normal" stroke="#231f20" stroke-width="0.15" >Dasatinib</text>
<text x="335.75" y="371.8" font-size="7.3" text-anchor="middle" fill="#231f20" font-weight="normal" stroke="#231f20" stroke-width="0.15" >Ibrutinib</text>
<text x="419.45" y="371.8" font-size="7.3" text-anchor="middle" fill="#231f20" font-weight="normal" stroke="#231f20" stroke-width="0.15" >Dasatinib + Ibrutinib</text>
<text x="83.25" y="500.4" font-size="7.5" text-anchor="middle" fill="#231f20" font-weight="normal" stroke="#231f20" stroke-width="0.15" >2.6%</text>
<text x="167.55" y="500.4" font-size="7.5" text-anchor="middle" fill="#231f20" font-weight="normal" stroke="#231f20" stroke-width="0.15" >95.6%</text>
<text x="251.75" y="500.4" font-size="7.5" text-anchor="middle" fill="#231f20" font-weight="normal" stroke="#231f20" stroke-width="0.15" >17.5%</text>
<text x="335.75" y="500.4" font-size="7.5" text-anchor="middle" fill="#231f20" font-weight="normal" stroke="#231f20" stroke-width="0.15" >40.1%</text>
<text x="419.45" y="500.4" font-size="7.5" text-anchor="middle" fill="#231f20" font-weight="normal" stroke="#231f20" stroke-width="0.15" >2.7%</text>
<text x="27.7" y="405.3" font-size="7" text-anchor="middle" fill="#231f20" font-weight="normal" stroke="#231f20" stroke-width="0.15" >H&amp;E</text>
<text x="27.5" y="457.7" font-size="7" text-anchor="middle" fill="#231f20" font-weight="normal" stroke="#231f20" stroke-width="0.15" >Anti-</text>
<text x="27.5" y="467.7" font-size="7" text-anchor="middle" fill="#231f20" font-weight="normal" stroke="#231f20" stroke-width="0.15" >GFP</text>
<text x="27.6" y="496.4" font-size="7" text-anchor="middle" fill="#231f20" font-weight="normal" stroke="#231f20" stroke-width="0.15" >GFP</text>
<text x="27.6" y="504.9" font-size="7.2" text-anchor="middle" fill="#231f20" font-weight="normal" stroke="#231f20" stroke-width="0.15" >positivity</text>
<defs><clipPath id="c10"><rect x="44.6" y="376.5" width="77.3" height="51.3"/></clipPath><clipPath id="c20"><rect x="44.6" y="434.5" width="77.3" height="52.0"/></clipPath><clipPath id="c11"><rect x="128.9" y="376.5" width="77.3" height="51.3"/></clipPath><clipPath id="c21"><rect x="128.9" y="434.5" width="77.3" height="52.0"/></clipPath><clipPath id="c12"><rect x="213.1" y="376.5" width="77.3" height="51.3"/></clipPath><clipPath id="c22"><rect x="213.1" y="434.5" width="77.3" height="52.0"/></clipPath><clipPath id="c13"><rect x="297.1" y="376.5" width="77.3" height="51.3"/></clipPath><clipPath id="c23"><rect x="297.1" y="434.5" width="77.3" height="52.0"/></clipPath><clipPath id="c14"><rect x="380.8" y="376.5" width="77.3" height="51.3"/></clipPath><clipPath id="c24"><rect x="380.8" y="434.5" width="77.3" height="52.0"/></clipPath><clipPath id="wt_p"><path d="M49.10,376.50 L86.60,376.50 L82.60,379.50 L72.60,386.50 L64.60,393.50 L60.60,394.50 L56.60,390.50 L51.60,383.50 L49.10,379.00 Z M65.60,428.50 L65.60,408.50 L63.60,399.50 L68.60,393.50 L76.60,386.50 L84.60,381.50 L92.60,379.50 L100.60,379.00 L106.60,379.50 L110.60,381.50 L114.60,384.50 L118.10,388.50 L118.60,396.50 L119.10,411.50 L117.60,421.50 L116.10,428.50 Z"/></clipPath><clipPath id="ib_p"><path d="M297.1,402.5 L304.6,403.5 C308.1,406.5 311.6,409.5 312.1,412.5 L312.6,428.5 L297.1,428.5 Z M347.1,428.5 C349.1,423.5 355.1,422.5 359.1,428.5 Z"/></clipPath><clipPath id="di_p"><path d="M392.80,382.50 L396.80,381.00 L405.80,380.00 L415.80,379.50 L425.80,379.50 L435.80,379.50 L443.80,380.00 L445.30,384.50 L444.30,392.50 L441.80,401.50 L436.80,405.00 L428.80,407.50 L419.80,409.00 L412.80,404.50 L406.80,400.00 L400.80,395.00 L395.80,388.50 Z M393.80,428.50 L394.30,421.50 L396.80,417.50 L401.80,416.00 L407.80,417.50 L410.80,421.50 L411.30,428.50 Z"/></clipPath><clipPath id="wt2_p"><path d="M44.6,434.5 L48.6,434.5 L48.6,446.5 C49.6,459.5 53.6,469.5 57.6,478.5 L60.6,486.5 L44.6,486.5 Z"/></clipPath><filter id="tx1" filterUnits="userSpaceOnUse" x="44.6" y="376.5" width="77.3" height="51.3" color-interpolation-filters="sRGB"><feTurbulence type="fractalNoise" baseFrequency="0.48999999999999994" numOctaves="2" seed="11" result="n1"/><feTurbulence type="fractalNoise" baseFrequency="0.098" numOctaves="2" seed="511" result="n2"/><feComposite in="n1" in2="n2" operator="arithmetic" k1="0" k2="0.65" k3="0.35" k4="0"/><feColorMatrix type="matrix" values="1 0 0 0 0  1 0 0 0 0  1 0 0 0 0  0 0 0 0 1"/><feComponentTransfer><feFuncR type="linear" slope="0.5710" intercept="0.4361"/><feFuncG type="linear" slope="0.6322" intercept="0.0800"/><feFuncB type="linear" slope="0.6118" intercept="0.1569"/></feComponentTransfer><feGaussianBlur stdDeviation="0.5"/></filter><filter id="tx2" filterUnits="userSpaceOnUse" x="44.6" y="376.5" width="77.3" height="51.3" color-interpolation-filters="sRGB"><feTurbulence type="fractalNoise" baseFrequency="0.588" numOctaves="2" seed="12" result="n1"/><feTurbulence type="fractalNoise" baseFrequency="0.118" numOctaves="2" seed="512" result="n2"/><feComposite in="n1" in2="n2" operator="arithmetic" k1="0" k2="0.65" k3="0.35" k4="0"/><feColorMatrix type="matrix" values="1 0 0 0 0  1 0 0 0 0  1 0 0 0 0  0 0 0 0 1"/><feComponentTransfer><feFuncR type="linear" slope="1.0400" intercept="-0.0925"/><feFuncG type="linear" slope="0.9584" intercept="-0.1851"/><feFuncB type="linear" slope="0.9788" intercept="-0.0188"/></feComponentTransfer><feGaussianBlur stdDeviation="0.5"/></filter><filter id="tx3" filterUnits="userSpaceOnUse" x="128.9" y="376.5" width="77.3" height="51.3" color-interpolation-filters="sRGB"><feTurbulence type="fractalNoise" baseFrequency="0.588" numOctaves="2" seed="21" result="n1"/><feTurbulence type="fractalNoise" baseFrequency="0.118" numOctaves="2" seed="521" result="n2"/><feComposite in="n1" in2="n2" operator="arithmetic" k1="0" k2="0.65" k3="0.35" k4="0"/><feColorMatrix type="matrix" values="1 0 0 0 0  1 0 0 0 0  1 0 0 0 0  0 0 0 0 1"/><feComponentTransfer><feFuncR type="linear" slope="0.6588" intercept="0.1333"/><feFuncG type="linear" slope="0.6118" intercept="0.0157"/><feFuncB type="linear" slope="0.6588" intercept="0.1804"/></feComponentTransfer><feGaussianBlur stdDeviation="0.5"/></filter><filter id="tx4" filterUnits="userSpaceOnUse" x="213.1" y="376.5" width="77.3" height="51.3" color-interpolation-filters="sRGB"><feTurbulence type="fractalNoise" baseFrequency="0.588" numOctaves="2" seed="31" result="n1"/><feTurbulence type="fractalNoise" baseFrequency="0.118" numOctaves="2" seed="531" result="n2"/><feComposite in="n1" in2="n2" operator="arithmetic" k1="0" k2="0.65" k3="0.35" k4="0"/><feColorMatrix type="matrix" values="1 0 0 0 0  1 0 0 0 0  1 0 0 0 0  0 0 0 0 1"/><feComponentTransfer><feFuncR type="linear" slope="0.6824" intercept="0.1020"/><feFuncG type="linear" slope="0.6588" intercept="-0.0157"/><feFuncB type="linear" slope="0.6353" intercept="0.2039"/></feComponentTransfer><feGaussianBlur stdDeviation="0.5"/></filter><filter id="tx5" filterUnits="userSpaceOnUse" x="297.1" y="376.5" width="77.3" height="51.3" color-interpolation-filters="sRGB"><feTurbulence type="fractalNoise" baseFrequency="0.588" numOctaves="2" seed="41" result="n1"/><feTurbulence type="fractalNoise" baseFrequency="0.118" numOctaves="2" seed="541" result="n2"/><feComposite in="n1" in2="n2" operator="arithmetic" k1="0" k2="0.65" k3="0.35" k4="0"/><feColorMatrix type="matrix" values="1 0 0 0 0  1 0 0 0 0  1 0 0 0 0  0 0 0 0 1"/><feComponentTransfer><feFuncR type="linear" slope="0.6824" intercept="0.1176"/><feFuncG type="linear" slope="0.6588" intercept="-0.0235"/><feFuncB type="linear" slope="0.6118" intercept="0.2118"/></feComponentTransfer><feGaussianBlur stdDeviation="0.5"/></filter><filter id="tx6" filterUnits="userSpaceOnUse" x="297.1" y="376.5" width="77.3" height="51.3" color-interpolation-filters="sRGB"><feTurbulence type="fractalNoise" baseFrequency="0.48999999999999994" numOctaves="2" seed="42" result="n1"/><feTurbulence type="fractalNoise" baseFrequency="0.098" numOctaves="2" seed="542" result="n2"/><feComposite in="n1" in2="n2" operator="arithmetic" k1="0" k2="0.65" k3="0.35" k4="0"/><feColorMatrix type="matrix" values="1 0 0 0 0  1 0 0 0 0  1 0 0 0 0  0 0 0 0 1"/><feComponentTransfer><feFuncR type="linear" slope="0.4706" intercept="0.5176"/><feFuncG type="linear" slope="0.5490" intercept="0.2118"/><feFuncB type="linear" slope="0.4510" intercept="0.3431"/></feComponentTransfer><feGaussianBlur stdDeviation="0.5"/></filter><filter id="tx7" filterUnits="userSpaceOnUse" x="380.8" y="376.5" width="77.3" height="51.3" color-interpolation-filters="sRGB"><feTurbulence type="fractalNoise" baseFrequency="0.42" numOctaves="2" seed="51" result="n1"/><feTurbulence type="fractalNoise" baseFrequency="0.084" numOctaves="2" seed="551" result="n2"/><feComposite in="n1" in2="n2" operator="arithmetic" k1="0" k2="0.65" k3="0.35" k4="0"/><feColorMatrix type="matrix" values="1 0 0 0 0  1 0 0 0 0  1 0 0 0 0  0 0 0 0 1"/><feComponentTransfer><feFuncR type="linear" slope="0.5271" intercept="0.4737"/><feFuncG type="linear" slope="0.5835" intercept="0.1122"/><feFuncB type="linear" slope="0.5647" intercept="0.1804"/></feComponentTransfer><feGaussianBlur stdDeviation="0.5"/></filter><filter id="tx8" filterUnits="userSpaceOnUse" x="380.8" y="376.5" width="77.3" height="51.3" color-interpolation-filters="sRGB"><feTurbulence type="fractalNoise" baseFrequency="0.63" numOctaves="2" seed="52" result="n1"/><feTurbulence type="fractalNoise" baseFrequency="0.126" numOctaves="2" seed="552" result="n2"/><feComposite in="n1" in2="n2" operator="arithmetic" k1="0" k2="0.65" k3="0.35" k4="0"/><feColorMatrix type="matrix" values="1 0 0 0 0  1 0 0 0 0  1 0 0 0 0  0 0 0 0 1"/><feComponentTransfer><feFuncR type="linear" slope="0.9647" intercept="0.0157"/><feFuncG type="linear" slope="0.9176" intercept="-0.0941"/><feFuncB type="linear" slope="0.9647" intercept="0.0471"/></feComponentTransfer><feGaussianBlur stdDeviation="0.5"/></filter><filter id="tx9" filterUnits="userSpaceOnUse" x="44.6" y="434.5" width="77.3" height="52.0" color-interpolation-filters="sRGB"><feTurbulence type="fractalNoise" baseFrequency="0.42" numOctaves="2" seed="61" result="n1"/><feTurbulence type="fractalNoise" baseFrequency="0.084" numOctaves="2" seed="561" result="n2"/><feComposite in="n1" in2="n2" operator="arithmetic" k1="0" k2="0.65" k3="0.35" k4="0"/><feColorMatrix type="matrix" values="1 0 0 0 0  1 0 0 0 0  1 0 0 0 0  0 0 0 0 1"/><feComponentTransfer><feFuncR type="linear" slope="0.3576" intercept="0.7035"/><feFuncG type="linear" slope="0.4141" intercept="0.6322"/><feFuncB type="linear" slope="0.4329" intercept="0.6110"/></feComponentTransfer><feGaussianBlur stdDeviation="0.5"/></filter><filter id="tx10" filterUnits="userSpaceOnUse" x="44.6" y="434.5" width="77.3" height="52.0" color-interpolation-filters="sRGB"><feTurbulence type="fractalNoise" baseFrequency="0.42" numOctaves="2" seed="62" result="n1"/><feTurbulence type="fractalNoise" baseFrequency="0.084" numOctaves="2" seed="562" result="n2"/><feComposite in="n1" in2="n2" operator="arithmetic" k1="0" k2="0.65" k3="0.35" k4="0"/><feColorMatrix type="matrix" values="1 0 0 0 0  1 0 0 0 0  1 0 0 0 0  0 0 0 0 1"/><feComponentTransfer><feFuncR type="linear" slope="0.4078" intercept="0.6275"/><feFuncG type="linear" slope="0.5098" intercept="0.4784"/><feFuncB type="linear" slope="0.5506" intercept="0.3953"/></feComponentTransfer><feGaussianBlur stdDeviation="0.5"/></filter><filter id="tx11" filterUnits="userSpaceOnUse" x="128.9" y="434.5" width="77.3" height="52.0" color-interpolation-filters="sRGB"><feTurbulence type="fractalNoise" baseFrequency="0.48999999999999994" numOctaves="2" seed="71" result="n1"/><feTurbulence type="fractalNoise" baseFrequency="0.098" numOctaves="2" seed="571" result="n2"/><feComposite in="n1" in2="n2" operator="arithmetic" k1="0" k2="0.65" k3="0.35" k4="0"/><feColorMatrix type="matrix" values="1 0 0 0 0  1 0 0 0 0  1 0 0 0 0  0 0 0 0 1"/><feComponentTransfer><feFuncR type="linear" slope="0.4486" intercept="0.5522"/><feFuncG type="linear" slope="0.5098" intercept="0.2902"/><feFuncB type="linear" slope="0.5710" intercept="0.0675"/></feComponentTransfer><feGaussianBlur stdDeviation="0.5"/></filter><filter id="tx12" filterUnits="userSpaceOnUse" x="213.1" y="434.5" width="77.3" height="52.0" color-interpolation-filters="sRGB"><feTurbulence type="fractalNoise" baseFrequency="0.42" numOctaves="2" seed="81" result="n1"/><feTurbulence type="fractalNoise" baseFrequency="0.084" numOctaves="2" seed="581" result="n2"/><feComposite in="n1" in2="n2" operator="arithmetic" k1="0" k2="0.65" k3="0.35" k4="0"/><feColorMatrix type="matrix" values="1 0 0 0 0  1 0 0 0 0  1 0 0 0 0  0 0 0 0 1"/><feComponentTransfer><feFuncR type="linear" slope="0.4486" intercept="0.6227"/><feFuncG type="linear" slope="0.5302" intercept="0.4957"/><feFuncB type="linear" slope="0.5710" intercept="0.4204"/></feComponentTransfer><feGaussianBlur stdDeviation="0.5"/></filter><filter id="tx13" filterUnits="userSpaceOnUse" x="297.1" y="434.5" width="77.3" height="52.0" color-interpolation-filters="sRGB"><feTurbulence type="fractalNoise" baseFrequency="0.42" numOctaves="2" seed="91" result="n1"/><feTurbulence type="fractalNoise" baseFrequency="0.084" numOctaves="2" seed="591" result="n2"/><feComposite in="n1" in2="n2" operator="arithmetic" k1="0" k2="0.65" k3="0.35" k4="0"/><feColorMatrix type="matrix" values="1 0 0 0 0  1 0 0 0 0  1 0 0 0 0  0 0 0 0 1"/><feComponentTransfer><feFuncR type="linear" slope="0.3576" intercept="0.6800"/><feFuncG type="linear" slope="0.4894" intercept="0.4847"/><feFuncB type="linear" slope="0.5271" intercept="0.3953"/></feComponentTransfer><feGaussianBlur stdDeviation="0.5"/></filter><filter id="tx14" filterUnits="userSpaceOnUse" x="380.8" y="434.5" width="77.3" height="52.0" color-interpolation-filters="sRGB"><feTurbulence type="fractalNoise" baseFrequency="0.42" numOctaves="2" seed="101" result="n1"/><feTurbulence type="fractalNoise" baseFrequency="0.084" numOctaves="2" seed="601" result="n2"/><feComposite in="n1" in2="n2" operator="arithmetic" k1="0" k2="0.65" k3="0.35" k4="0"/><feColorMatrix type="matrix" values="1 0 0 0 0  1 0 0 0 0  1 0 0 0 0  0 0 0 0 1"/><feComponentTransfer><feFuncR type="linear" slope="0.4329" intercept="0.5953"/><feFuncG type="linear" slope="0.5082" intercept="0.4871"/><feFuncB type="linear" slope="0.4894" intercept="0.5004"/></feComponentTransfer><feGaussianBlur stdDeviation="0.5"/></filter></defs>
<g clip-path="url(#c10)"><g><rect x="44.6" y="376.5" width="77.3" height="51.3" filter="url(#tx1)"/></g><g clip-path="url(#wt_p)"><rect x="44.6" y="376.5" width="77.3" height="51.3" filter="url(#tx2)"/></g><path d="M44.60,376.50 L49.10,376.50 L49.10,379.00 L51.60,383.50 L56.60,390.50 L60.60,394.50 L64.60,398.50 L66.60,406.50 L68.10,417.50 L70.60,428.50 L66.60,428.50 L64.10,417.50 L61.60,406.50 L58.10,398.50 L53.60,392.50 L48.60,386.50 L45.60,381.50 L44.60,379.50 Z" fill="#e8e2e6" opacity="0.92"/><path d="M60.60,394.50 L64.60,393.50 L72.60,386.50 L82.60,379.50 L86.60,376.50 L92.60,376.50 L92.60,379.00 L84.60,381.50 L76.60,386.50 L68.60,393.50 L63.60,399.50 Z" fill="#eadce4" opacity="0.85"/></g>
<line x1="102.1" y1="421.5" x2="119.7" y2="421.5" stroke="#111" stroke-width="1.1"/>
<g clip-path="url(#c11)"><g><rect x="128.9" y="376.5" width="77.3" height="51.3" filter="url(#tx3)"/></g><path d="M196.2,376.5 L206.2,376.5 L206.2,388.3 Z" fill="#e6e2e6"/><ellipse cx="172.2" cy="393.4" rx="4.4" ry="4.4" fill="#b47282"/><circle cx="175.60000000000002" cy="402.7" r="2.3" fill="#9a6890" opacity="0.8"/><path d="M174.2,388.8 C179.5,390.3 179.9,396.5 176.2,399.4" stroke="#f2ecf0" stroke-width="1.5" fill="none"/></g>
<g clip-path="url(#c12)"><g><rect x="213.1" y="376.5" width="77.3" height="51.3" filter="url(#tx4)"/></g><path d="M213.1,376.5 L220.1,376.5 L219.1,386.5 L213.1,389.5 Z" fill="#a88aa8" opacity="0.7"/><ellipse cx="222.6" cy="408.1" rx="2.4" ry="1.8" fill="#ece4ee" opacity="0.85"/><ellipse cx="229.1" cy="410.0" rx="2.4" ry="1.9" fill="#ece4ee" opacity="0.85"/><ellipse cx="237.79999999999998" cy="409.6" rx="1.6" ry="1.5" fill="#ece4ee" opacity="0.85"/><ellipse cx="237.4" cy="414.4" rx="2.4" ry="1.7" fill="#ece4ee" opacity="0.85"/><ellipse cx="215.79999999999998" cy="391.5" rx="2" ry="2" fill="#ece4ee" opacity="0.85"/><ellipse cx="272.4" cy="402.3" rx="1.7" ry="1.4" fill="#ece4ee" opacity="0.85"/><ellipse cx="270.5" cy="407.7" rx="1.9" ry="1.6" fill="#ece4ee" opacity="0.85"/></g>
<g clip-path="url(#c13)"><g><rect x="297.1" y="376.5" width="77.3" height="51.3" filter="url(#tx5)"/></g><g clip-path="url(#ib_p)"><rect x="297.1" y="376.5" width="77.3" height="51.3" filter="url(#tx6)"/></g><circle cx="324.6" cy="382.5" r="1.3" fill="#e6dcea" opacity="0.75"/><circle cx="329.1" cy="397.5" r="1.3" fill="#e6dcea" opacity="0.75"/><circle cx="357.1" cy="410.5" r="1.8" fill="#e6dcea" opacity="0.75"/><circle cx="360.6" cy="411.0" r="1.5" fill="#e6dcea" opacity="0.75"/><circle cx="318.1" cy="418.5" r="1.1" fill="#e6dcea" opacity="0.75"/><circle cx="351.1" cy="407.5" r="1" fill="#e6dcea" opacity="0.75"/><circle cx="370.1" cy="391.5" r="1.2" fill="#e6dcea" opacity="0.75"/><circle cx="299.1" cy="378.5" r="1.2" fill="#e6dcea" opacity="0.75"/></g>
<g clip-path="url(#c14)"><g><rect x="380.8" y="376.5" width="77.3" height="51.3" filter="url(#tx7)"/></g><g clip-path="url(#di_p)"><rect x="380.8" y="376.5" width="77.3" height="51.3" filter="url(#tx8)"/></g><path d="M392.80,382.50 L396.80,381.00 L405.80,380.00 L415.80,379.50 L425.80,379.50 L435.80,379.50 L443.80,380.00 L445.30,384.50 L444.30,392.50 L441.80,401.50 L436.80,405.00 L428.80,407.50 L419.80,409.00 L412.80,404.50 L406.80,400.00 L400.80,395.00 L395.80,388.50 Z" fill="none" stroke="#ead4dc" stroke-width="1.3" opacity="0.75"/><ellipse cx="433.8" cy="393.5" rx="10" ry="12" fill="#b07890" opacity="0.4" clip-path="url(#di_p)"/><path d="M380.8,392.5 C385.8,388.5 390.8,386.5 394.8,382.5 L396.8,383.5 C392.8,387.5 386.8,391.5 380.8,397.5 Z" fill="#e2c8d0" opacity="0.7"/><circle cx="428.0" cy="398.0" r="3.4" fill="#f4eef2" stroke="#d8c8d4" stroke-width="0.6"/><circle cx="435.7" cy="397.5" r="3.3" fill="#f4eef2" stroke="#d8c8d4" stroke-width="0.6"/></g>
<g clip-path="url(#c20)"><g><rect x="44.6" y="434.5" width="77.3" height="52.0" filter="url(#tx9)"/></g><g clip-path="url(#wt2_p)"><rect x="44.6" y="434.5" width="77.3" height="52.0" filter="url(#tx10)"/></g><ellipse cx="46.6" cy="437.5" rx="2.5" ry="4" fill="#8a6050" opacity="0.6"/><ellipse cx="61.6" cy="438.5" rx="5" ry="4" fill="#eef0f4" opacity="0.75"/><ellipse cx="65.6" cy="449.5" rx="3" ry="3" fill="#eef0f4" opacity="0.6"/><ellipse cx="87.6" cy="470.5" rx="5" ry="5" fill="#b08078" opacity="0.3"/></g>
<line x1="102.1" y1="480.3" x2="119.7" y2="480.3" stroke="#111" stroke-width="1.1"/>
<g clip-path="url(#c21)"><g><rect x="128.9" y="434.5" width="77.3" height="52.0" filter="url(#tx11)"/></g></g>
<g clip-path="url(#c22)"><g><rect x="213.1" y="434.5" width="77.3" height="52.0" filter="url(#tx12)"/></g><path d="M213.1,434.5 L223.1,434.5 C222.1,444.5 219.6,456.5 215.6,470.5 L213.1,477.5 Z" fill="#eeedf2"/><path d="M290.4,474.5 L290.4,486.5 L277.1,486.5 Z" fill="#eceef2"/><line x1="283.1" y1="434.5" x2="290.4" y2="440.5" stroke="#7a4a40" stroke-width="1"/></g>
<g clip-path="url(#c23)"><g><rect x="297.1" y="434.5" width="77.3" height="52.0" filter="url(#tx13)"/></g></g>
<g clip-path="url(#c24)"><g><rect x="380.8" y="434.5" width="77.3" height="52.0" filter="url(#tx14)"/></g><ellipse cx="395.2" cy="475.5" rx="4.6" ry="5.3" fill="#eeeaee" opacity="0.9"/><ellipse cx="397.5" cy="468.7" rx="3" ry="3" fill="#eeeaee" opacity="0.9"/><ellipse cx="408.8" cy="467.9" rx="3" ry="3.2" fill="#eeeaee" opacity="0.9"/><ellipse cx="405.1" cy="446.7" rx="2.3" ry="2.3" fill="#eeeaee" opacity="0.9"/><ellipse cx="395.2" cy="439.1" rx="3.8" ry="3" fill="#eeeaee" opacity="0.9"/><ellipse cx="437.8" cy="439.1" rx="3" ry="4.5" fill="#eeeaee" opacity="0.9"/><ellipse cx="453.8" cy="441.3" rx="3.8" ry="4.5" fill="#eeeaee" opacity="0.9"/><ellipse cx="449.20000000000005" cy="455.8" rx="3.8" ry="5.3" fill="#eeeaee" opacity="0.9"/><ellipse cx="452.20000000000005" cy="466.5" rx="3.8" ry="6" fill="#eeeaee" opacity="0.9"/><ellipse cx="424.8" cy="461.1" rx="2.3" ry="2.3" fill="#eeeaee" opacity="0.9"/><ellipse cx="417.3" cy="452.7" rx="1.8" ry="1.8" fill="#eeeaee" opacity="0.9"/><ellipse cx="430.8" cy="478.5" rx="3" ry="3" fill="#eeeaee" opacity="0.9"/><ellipse cx="415.8" cy="483.1" rx="3.8" ry="2.3" fill="#eeeaee" opacity="0.9"/><ellipse cx="444.6" cy="475.5" rx="2.3" ry="2.3" fill="#eeeaee" opacity="0.9"/><ellipse cx="388.40000000000003" cy="457.3" rx="1.8" ry="1.8" fill="#eeeaee" opacity="0.9"/><ellipse cx="440.1" cy="449.7" rx="1.8" ry="1.8" fill="#eeeaee" opacity="0.9"/></g>
<text x="262.5" y="528" font-size="8.9" text-anchor="middle" fill="#231f20" font-weight="normal" textLength="100.4" lengthAdjust="spacingAndGlyphs" stroke="#231f20" stroke-width="0.15" >BM infiltrating GFP+ cells</text>
<rect x="42.7" y="540.4" width="79.7" height="79.39999999999998" fill="none" stroke="#9a9a9a" stroke-width="0.7"/>
<path d="M51.38,619.80 L52.25,619.62 L53.13,619.45 L54.00,619.27 L54.88,619.09 L55.76,618.91 L56.63,618.74 L57.51,618.56 L58.39,618.38 L59.26,618.20 L59.96,618.87 L60.66,619.53 L61.36,616.94 L62.07,619.60 L62.77,617.14 L63.47,617.81 L64.17,619.19 L64.87,616.75 L65.57,616.61 L66.45,618.82 L67.32,616.60 L68.20,618.33 L69.08,618.06 L69.95,616.12 L70.83,613.80 L71.70,617.39 L72.58,616.69 L73.46,615.01 L73.98,613.96 L74.51,611.81 L75.03,613.51 L75.56,614.18 L76.09,610.50 L76.61,615.51 L77.14,610.43 L77.66,613.42 L78.19,611.82 L78.54,612.76 L78.89,611.74 L79.24,609.33 L79.59,604.78 L79.94,607.75 L80.29,603.82 L80.64,602.17 L80.99,602.79 L81.34,600.65 L81.61,597.64 L81.87,598.67 L82.13,596.12 L82.40,592.38 L82.66,585.87 L82.92,585.30 L83.18,583.63 L83.45,578.62 L83.71,576.71 L83.97,574.83 L84.24,573.94 L84.50,567.06 L84.76,565.61 L85.02,567.64 L85.29,562.16 L85.55,560.33 L85.81,554.55 L86.08,555.97 L86.34,552.41 L86.60,555.64 L86.86,547.33 L87.13,554.93 L87.39,550.61 L87.65,545.85 L87.92,550.92 L88.18,546.16 L88.44,544.80 L88.62,550.54 L88.79,544.81 L88.97,544.69 L89.14,547.58 L89.32,545.34 L89.49,552.04 L89.67,549.00 L89.84,550.92 L90.02,552.78 L90.28,553.03 L90.54,555.35 L90.81,552.55 L91.07,552.59 L91.33,558.35 L91.60,557.54 L91.86,564.54 L92.12,559.32 L92.38,562.35 L92.65,563.07 L92.91,561.93 L93.17,565.72 L93.44,572.86 L93.70,574.03 L93.96,573.60 L94.22,581.49 L94.49,579.71 L94.75,581.50 L95.01,585.58 L95.28,587.22 L95.54,588.92 L95.80,584.24 L96.06,590.75 L96.33,591.00 L96.59,591.06 L96.85,588.48 L97.12,592.67 L97.38,597.33 L97.64,595.90 L97.91,596.56 L98.17,595.51 L98.43,597.45 L98.69,598.59 L98.96,604.15 L99.22,604.60 L99.48,605.44 L99.83,607.78 L100.18,605.81 L100.53,606.84 L100.88,613.22 L101.23,614.42 L101.59,615.46 L101.94,616.80 L102.29,616.86 L102.64,618.20 L102.90,618.38 L103.16,618.56 L103.43,618.74 L103.69,618.91 L103.95,619.09 L104.21,619.27 L104.48,619.45 L104.74,619.62 L105.00,619.80 L106.76,619.80 L108.51,619.80 L110.26,619.80 L112.01,619.80 L113.77,619.80 L115.52,619.80 L117.27,619.80 L119.02,619.80 L120.78,619.80" fill="none" stroke="#141414" stroke-width="1.0" stroke-linejoin="miter" stroke-miterlimit="2"/>
<path d="M51.38,619.80 L52.08,619.62 L52.78,619.45 L53.48,619.27 L54.18,619.09 L54.88,618.91 L55.58,618.74 L56.28,618.56 L56.98,618.38 L57.68,618.20 L58.39,617.42 L59.09,618.66 L59.79,619.62 L60.49,617.20 L61.19,617.11 L61.89,615.73 L62.59,613.31 L63.29,614.34 L63.99,615.01 L64.43,614.39 L64.87,613.29 L65.31,612.41 L65.75,615.47 L66.18,610.01 L66.62,610.15 L67.06,609.03 L67.50,608.94 L67.94,610.23 L68.20,610.36 L68.46,609.80 L68.73,611.15 L68.99,607.23 L69.25,610.40 L69.51,609.87 L69.78,608.42 L70.04,608.22 L70.30,605.44 L70.57,606.34 L70.83,608.10 L71.09,608.29 L71.35,607.10 L71.62,607.26 L71.88,605.31 L72.14,607.44 L72.41,601.45 L72.67,603.84 L72.84,601.44 L73.02,603.17 L73.19,600.87 L73.37,598.60 L73.54,596.89 L73.72,597.18 L73.90,589.94 L74.07,587.15 L74.25,589.48 L74.42,587.99 L74.60,586.07 L74.77,587.66 L74.95,585.79 L75.12,581.98 L75.30,580.91 L75.47,574.14 L75.65,578.34 L75.82,573.52 L76.00,576.48 L76.17,566.51 L76.35,569.00 L76.52,571.18 L76.70,566.02 L76.87,569.54 L77.05,563.32 L77.23,557.52 L77.40,560.76 L77.58,555.21 L77.75,554.89 L77.93,557.32 L78.10,554.31 L78.28,554.43 L78.45,546.23 L78.63,546.76 L78.80,544.00 L78.98,544.00 L79.15,546.42 L79.33,548.95 L79.50,544.20 L79.68,544.00 L79.85,546.66 L80.03,548.58 L80.20,549.89 L80.38,552.12 L80.55,555.97 L80.82,560.99 L81.08,560.41 L81.34,564.28 L81.61,569.70 L81.87,571.95 L82.13,571.85 L82.40,574.32 L82.66,572.67 L82.92,576.71 L83.10,573.19 L83.27,578.24 L83.45,574.46 L83.62,574.55 L83.80,575.39 L83.97,581.09 L84.15,582.86 L84.32,583.33 L84.50,581.50 L84.76,585.33 L85.02,586.48 L85.29,584.19 L85.55,583.15 L85.81,584.91 L86.08,589.11 L86.34,588.96 L86.60,589.05 L86.86,592.67 L87.13,597.30 L87.39,594.29 L87.65,593.85 L87.92,596.26 L88.18,597.95 L88.44,601.34 L88.70,604.85 L88.97,602.04 L89.23,605.44 L89.58,607.78 L89.93,605.98 L90.28,606.19 L90.63,611.04 L90.98,612.23 L91.33,610.29 L91.68,612.87 L92.03,617.14 L92.38,616.61 L92.74,618.85 L93.09,619.05 L93.44,615.70 L93.79,616.57 L94.14,618.38 L94.49,618.74 L94.84,619.09 L95.19,619.45 L95.54,619.80 L98.34,619.80 L101.15,619.80 L103.95,619.80 L106.76,619.80 L109.56,619.80 L112.36,619.80 L115.17,619.80 L117.97,619.80 L120.78,619.80" fill="none" stroke="#f2a12a" stroke-width="1.0" stroke-linejoin="miter" stroke-miterlimit="2"/>
<path d="M57.68,619.00 L58.56,619.80 L59.44,615.79 L60.31,614.14 L61.19,614.98 L62.07,615.83 L62.94,613.94 L63.82,615.53 L64.69,615.45 L65.57,611.82 L66.10,608.07 L66.62,609.12 L67.15,608.99 L67.67,605.50 L68.20,607.82 L68.73,604.05 L69.25,603.43 L69.78,606.69 L70.30,603.84 L70.65,603.47 L71.00,601.09 L71.35,599.39 L71.70,594.67 L72.06,595.08 L72.41,591.72 L72.76,591.94 L73.11,583.43 L73.46,584.69 L73.81,583.29 L74.16,579.74 L74.51,575.97 L74.86,570.39 L75.21,572.13 L75.56,564.82 L75.91,566.06 L76.26,563.11 L76.61,560.76 L76.96,558.57 L77.31,561.67 L77.66,555.51 L78.01,556.18 L78.36,556.11 L78.71,545.95 L79.07,550.53 L79.42,545.43 L79.77,544.00 L80.03,544.00 L80.29,544.38 L80.55,547.69 L80.82,546.56 L81.08,547.06 L81.34,545.56 L81.61,553.49 L81.87,549.67 L82.13,551.18 L82.40,554.82 L82.66,555.58 L82.92,551.62 L83.18,555.36 L83.45,555.88 L83.71,554.97 L83.97,554.54 L84.24,560.25 L84.50,560.76 L84.76,561.44 L85.02,564.25 L85.29,565.96 L85.55,566.03 L85.81,570.07 L86.08,571.09 L86.34,573.37 L86.60,570.96 L86.86,576.71 L87.21,576.37 L87.57,576.26 L87.92,577.14 L88.27,584.45 L88.62,583.30 L88.97,581.51 L89.32,583.83 L89.67,591.03 L90.02,589.48 L90.28,594.09 L90.54,593.13 L90.81,597.57 L91.07,597.83 L91.33,600.64 L91.60,597.81 L91.86,598.61 L92.12,599.45 L92.38,603.84 L92.74,607.42 L93.09,604.89 L93.44,606.53 L93.79,611.07 L94.14,607.68 L94.49,608.47 L94.84,614.17 L95.19,611.21 L95.54,615.01 L95.80,616.09 L96.06,616.14 L96.33,614.10 L96.59,615.48 L96.85,619.32 L97.12,618.53 L97.38,618.74 L97.64,619.27 L97.91,619.80 L100.45,619.80 L102.99,619.80 L105.53,619.80 L108.07,619.80 L110.61,619.80 L113.15,619.80 L115.69,619.80 L118.23,619.80 L120.78,619.80" fill="none" stroke="#62b83a" stroke-width="1.0" stroke-linejoin="miter" stroke-miterlimit="2"/>
<path d="M48.22,619.80 L48.75,619.45 L49.27,619.09 L49.80,618.74 L50.32,618.38 L50.85,617.95 L51.38,618.46 L51.90,618.83 L52.43,617.88 L52.95,616.61 L53.48,614.73 L54.00,617.79 L54.53,614.18 L55.06,614.11 L55.58,615.84 L56.11,613.34 L56.63,610.90 L57.16,610.86 L57.68,610.23 L57.95,613.16 L58.21,607.80 L58.47,609.28 L58.74,608.45 L59.00,613.92 L59.26,613.22 L59.52,614.81 L59.79,610.71 L60.05,612.62 L60.31,613.87 L60.58,614.61 L60.84,612.81 L61.10,609.84 L61.36,610.29 L61.63,613.51 L61.89,614.08 L62.15,609.42 L62.42,611.82 L62.77,611.13 L63.12,610.08 L63.47,613.51 L63.82,613.45 L64.17,609.34 L64.52,610.69 L64.87,612.61 L65.22,606.96 L65.57,609.43 L65.92,608.13 L66.27,606.62 L66.62,610.77 L66.97,605.35 L67.32,610.04 L67.67,604.38 L68.02,606.63 L68.37,606.95 L68.73,605.44 L68.99,604.37 L69.25,601.09 L69.51,604.92 L69.78,605.20 L70.04,601.70 L70.30,603.05 L70.57,603.28 L70.83,602.22 L71.09,599.05 L71.27,600.81 L71.44,598.13 L71.62,595.72 L71.79,594.20 L71.97,589.01 L72.14,591.18 L72.32,587.88 L72.49,588.96 L72.67,584.69 L72.84,583.35 L73.02,583.59 L73.19,578.94 L73.37,578.45 L73.54,569.24 L73.72,568.26 L73.90,569.03 L74.07,563.66 L74.25,560.76 L74.42,554.59 L74.60,560.97 L74.77,551.95 L74.95,554.00 L75.12,551.50 L75.30,546.12 L75.47,548.84 L75.65,545.79 L75.82,544.00 L76.00,544.00 L76.17,544.00 L76.35,548.57 L76.52,544.43 L76.70,546.73 L76.87,548.45 L77.05,551.81 L77.23,553.36 L77.40,552.78 L77.66,559.06 L77.93,560.03 L78.19,562.36 L78.45,557.50 L78.71,564.03 L78.98,566.67 L79.24,569.16 L79.50,563.73 L79.77,568.73 L80.12,566.71 L80.47,570.00 L80.82,574.98 L81.17,576.74 L81.52,577.68 L81.87,577.61 L82.22,581.68 L82.57,580.55 L82.92,581.50 L83.18,585.29 L83.45,581.18 L83.71,582.91 L83.97,588.21 L84.24,592.41 L84.50,588.47 L84.76,595.39 L85.02,596.78 L85.29,597.46 L85.55,602.54 L85.81,601.15 L86.08,601.89 L86.34,603.11 L86.60,606.59 L86.86,605.94 L87.13,610.61 L87.39,610.30 L87.65,610.23 L87.92,613.68 L88.18,612.77 L88.44,615.79 L88.70,616.80 L88.97,616.16 L89.23,617.48 L89.49,616.62 L89.76,617.89 L90.02,619.00 L90.28,619.09 L90.54,619.18 L90.81,619.27 L91.07,619.36 L91.33,619.45 L91.60,619.53 L91.86,619.62 L92.12,619.71 L92.38,619.80 L95.54,619.80 L98.69,619.80 L101.85,619.80 L105.00,619.80 L108.16,619.80 L111.31,619.80 L114.47,619.80 L117.62,619.80 L120.78,619.80" fill="none" stroke="#2a3f8e" stroke-width="1.0" stroke-linejoin="miter" stroke-miterlimit="2"/>
<line x1="42.7" y1="540.4" x2="42.7" y2="619.8" stroke="#231f20" stroke-width="0.9"/>
<line x1="42.7" y1="619.8" x2="122.4" y2="619.8" stroke="#231f20" stroke-width="0.9"/>
<line x1="40.300000000000004" y1="619.8" x2="42.7" y2="619.8" stroke="#231f20" stroke-width="0.8"/>
<text x="38.3" y="622.3" font-size="7" text-anchor="end" fill="#231f20" font-weight="normal" stroke="#231f20" stroke-width="0.15" >0</text>
<line x1="40.300000000000004" y1="604.64" x2="42.7" y2="604.64" stroke="#231f20" stroke-width="0.8"/>
<text x="38.3" y="607.14" font-size="7" text-anchor="end" fill="#231f20" font-weight="normal" stroke="#231f20" stroke-width="0.15" >20</text>
<line x1="40.300000000000004" y1="589.48" x2="42.7" y2="589.48" stroke="#231f20" stroke-width="0.8"/>
<text x="38.3" y="591.98" font-size="7" text-anchor="end" fill="#231f20" font-weight="normal" stroke="#231f20" stroke-width="0.15" >40</text>
<line x1="40.300000000000004" y1="574.3199999999999" x2="42.7" y2="574.3199999999999" stroke="#231f20" stroke-width="0.8"/>
<text x="38.3" y="576.8199999999999" font-size="7" text-anchor="end" fill="#231f20" font-weight="normal" stroke="#231f20" stroke-width="0.15" >60</text>
<line x1="40.300000000000004" y1="559.16" x2="42.7" y2="559.16" stroke="#231f20" stroke-width="0.8"/>
<text x="38.3" y="561.66" font-size="7" text-anchor="end" fill="#231f20" font-weight="normal" stroke="#231f20" stroke-width="0.15" >80</text>
<line x1="40.300000000000004" y1="544.0" x2="42.7" y2="544.0" stroke="#231f20" stroke-width="0.8"/>
<text x="38.3" y="546.5" font-size="7" text-anchor="end" fill="#231f20" font-weight="normal" stroke="#231f20" stroke-width="0.15" >100</text>
<line x1="41.5" y1="616.7679999999999" x2="42.7" y2="616.7679999999999" stroke="#555" stroke-width="0.4"/>
<line x1="41.5" y1="613.736" x2="42.7" y2="613.736" stroke="#555" stroke-width="0.4"/>
<line x1="41.5" y1="610.704" x2="42.7" y2="610.704" stroke="#555" stroke-width="0.4"/>
<line x1="41.5" y1="607.6719999999999" x2="42.7" y2="607.6719999999999" stroke="#555" stroke-width="0.4"/>
<line x1="41.5" y1="601.608" x2="42.7" y2="601.608" stroke="#555" stroke-width="0.4"/>
<line x1="41.5" y1="598.576" x2="42.7" y2="598.576" stroke="#555" stroke-width="0.4"/>
<line x1="41.5" y1="595.544" x2="42.7" y2="595.544" stroke="#555" stroke-width="0.4"/>
<line x1="41.5" y1="592.512" x2="42.7" y2="592.512" stroke="#555" stroke-width="0.4"/>
<line x1="41.5" y1="586.448" x2="42.7" y2="586.448" stroke="#555" stroke-width="0.4"/>
<line x1="41.5" y1="583.4159999999999" x2="42.7" y2="583.4159999999999" stroke="#555" stroke-width="0.4"/>
<line x1="41.5" y1="580.384" x2="42.7" y2="580.384" stroke="#555" stroke-width="0.4"/>
<line x1="41.5" y1="577.352" x2="42.7" y2="577.352" stroke="#555" stroke-width="0.4"/>
<line x1="41.5" y1="571.288" x2="42.7" y2="571.288" stroke="#555" stroke-width="0.4"/>
<line x1="41.5" y1="568.256" x2="42.7" y2="568.256" stroke="#555" stroke-width="0.4"/>
<line x1="41.5" y1="565.2239999999999" x2="42.7" y2="565.2239999999999" stroke="#555" stroke-width="0.4"/>
<line x1="41.5" y1="562.192" x2="42.7" y2="562.192" stroke="#555" stroke-width="0.4"/>
<line x1="41.5" y1="556.128" x2="42.7" y2="556.128" stroke="#555" stroke-width="0.4"/>
<line x1="41.5" y1="553.096" x2="42.7" y2="553.096" stroke="#555" stroke-width="0.4"/>
<line x1="41.5" y1="550.064" x2="42.7" y2="550.064" stroke="#555" stroke-width="0.4"/>
<line x1="41.5" y1="547.032" x2="42.7" y2="547.032" stroke="#555" stroke-width="0.4"/>
<line x1="46.7" y1="619.8" x2="46.7" y2="621.5999999999999" stroke="#555" stroke-width="0.4"/>
<line x1="51.900000000000006" y1="619.8" x2="51.900000000000006" y2="620.8" stroke="#555" stroke-width="0.4"/>
<line x1="57.1" y1="619.8" x2="57.1" y2="620.8" stroke="#555" stroke-width="0.4"/>
<line x1="62.300000000000004" y1="619.8" x2="62.300000000000004" y2="620.8" stroke="#555" stroke-width="0.4"/>
<line x1="67.5" y1="619.8" x2="67.5" y2="621.5999999999999" stroke="#555" stroke-width="0.4"/>
<line x1="72.7" y1="619.8" x2="72.7" y2="620.8" stroke="#555" stroke-width="0.4"/>
<line x1="77.9" y1="619.8" x2="77.9" y2="620.8" stroke="#555" stroke-width="0.4"/>
<line x1="83.1" y1="619.8" x2="83.1" y2="620.8" stroke="#555" stroke-width="0.4"/>
<line x1="88.30000000000001" y1="619.8" x2="88.30000000000001" y2="621.5999999999999" stroke="#555" stroke-width="0.4"/>
<line x1="93.5" y1="619.8" x2="93.5" y2="620.8" stroke="#555" stroke-width="0.4"/>
<line x1="98.7" y1="619.8" x2="98.7" y2="620.8" stroke="#555" stroke-width="0.4"/>
<line x1="103.9" y1="619.8" x2="103.9" y2="620.8" stroke="#555" stroke-width="0.4"/>
<line x1="109.10000000000001" y1="619.8" x2="109.10000000000001" y2="621.5999999999999" stroke="#555" stroke-width="0.4"/>
<line x1="114.30000000000001" y1="619.8" x2="114.30000000000001" y2="620.8" stroke="#555" stroke-width="0.4"/>
<line x1="119.5" y1="619.8" x2="119.5" y2="620.8" stroke="#555" stroke-width="0.4"/>
<text x="56" y="632.9" font-size="8.4" text-anchor="start" fill="#231f20" font-weight="normal" textLength="51" lengthAdjust="spacingAndGlyphs" stroke="#231f20" stroke-width="0.4" >pPlcg2 − Ax 647-A</text>
<text transform="translate(19.5,580.5) rotate(-90)" font-size="8.4" text-anchor="middle" fill="#231f20" stroke="#231f20" stroke-width="0.45" textLength="49" lengthAdjust="spacingAndGlyphs">Normalized mode</text>
<rect x="148.8" y="540.4" width="79.19999999999999" height="79.30000000000007" fill="none" stroke="#9a9a9a" stroke-width="0.7"/>
<path d="M155.11,619.70 L155.90,619.70 L156.69,619.70 L157.48,619.70 L158.26,619.70 L159.05,619.70 L159.84,619.70 L160.63,619.70 L161.42,619.70 L162.21,619.70 L163.26,619.43 L164.31,619.17 L165.36,618.90 L166.41,618.64 L167.46,618.37 L168.52,616.93 L169.57,617.09 L170.62,616.52 L171.67,617.31 L172.55,614.76 L173.42,616.65 L174.30,616.38 L175.18,612.19 L176.05,616.16 L176.93,612.32 L177.80,612.15 L178.68,615.02 L179.56,611.73 L180.08,608.81 L180.61,607.54 L181.13,608.27 L181.66,606.69 L182.19,605.28 L182.71,608.80 L183.24,605.37 L183.76,604.62 L184.29,603.76 L184.64,601.10 L184.99,600.94 L185.34,600.42 L185.69,601.76 L186.04,599.23 L186.39,600.34 L186.74,599.91 L187.09,602.86 L187.44,600.58 L187.71,602.92 L187.97,601.15 L188.23,598.43 L188.50,599.30 L188.76,592.70 L189.02,593.75 L189.28,592.14 L189.55,591.08 L189.81,591.01 L190.07,587.96 L190.34,587.91 L190.60,590.35 L190.86,582.14 L191.12,580.93 L191.39,581.43 L191.65,579.55 L191.91,576.86 L192.18,576.67 L192.35,578.81 L192.53,570.97 L192.70,573.64 L192.88,573.55 L193.05,570.02 L193.23,563.87 L193.40,567.11 L193.58,560.18 L193.75,560.73 L193.93,554.63 L194.10,557.96 L194.28,557.66 L194.45,555.28 L194.63,551.79 L194.80,549.51 L194.98,549.61 L195.15,547.92 L195.33,547.98 L195.51,551.95 L195.68,550.79 L195.86,549.23 L196.03,544.00 L196.21,547.83 L196.38,544.61 L196.56,550.03 L196.73,549.09 L196.91,544.00 L197.08,547.41 L197.26,544.14 L197.43,544.91 L197.61,546.07 L197.78,551.04 L197.96,549.67 L198.13,551.18 L198.31,552.14 L198.48,552.77 L198.57,557.52 L198.66,550.56 L198.75,558.45 L198.84,551.52 L198.92,552.84 L199.01,562.87 L199.10,559.37 L199.19,556.70 L199.27,560.73 L199.45,557.97 L199.62,564.76 L199.80,568.25 L199.97,570.55 L200.15,565.44 L200.32,574.02 L200.50,572.39 L200.68,578.13 L200.85,576.67 L201.03,577.87 L201.20,575.55 L201.38,584.09 L201.55,579.60 L201.73,583.68 L201.90,581.94 L202.08,584.91 L202.25,590.20 L202.43,589.42 L202.60,587.85 L202.78,592.72 L202.95,597.86 L203.13,599.56 L203.30,597.45 L203.48,599.34 L203.65,602.00 L203.83,604.69 L204.01,603.76 L204.18,605.88 L204.36,607.11 L204.53,604.73 L204.71,611.21 L204.88,607.50 L205.06,608.05 L205.23,613.49 L205.41,609.76 L205.58,613.33 L205.76,612.66 L205.93,612.17 L206.11,616.06 L206.28,616.13 L206.46,616.54 L206.63,613.96 L206.81,616.60 L206.98,618.25 L207.16,618.11 L207.42,618.28 L207.69,618.46 L207.95,618.64 L208.21,618.81 L208.47,618.99 L208.74,619.17 L209.00,619.35 L209.26,619.52 L209.53,619.70 L211.45,619.70 L213.38,619.70 L215.31,619.70 L217.24,619.70 L219.16,619.70 L221.09,619.70 L223.02,619.70 L224.95,619.70 L226.88,619.70" fill="none" stroke="#141414" stroke-width="1.0" stroke-linejoin="miter" stroke-miterlimit="2"/>
<path d="M163.78,619.70 L164.66,619.17 L165.54,618.64 L166.41,618.45 L167.29,618.67 L168.17,619.30 L169.04,618.55 L169.92,614.23 L170.79,616.60 L171.67,614.92 L172.28,611.98 L172.90,615.27 L173.51,614.66 L174.12,612.73 L174.74,614.08 L175.35,612.48 L175.96,608.46 L176.58,608.33 L177.19,610.14 L177.45,606.19 L177.72,605.38 L177.98,601.48 L178.24,599.26 L178.51,600.04 L178.77,596.84 L179.03,599.89 L179.29,592.77 L179.56,592.61 L179.82,591.23 L180.08,587.02 L180.35,586.11 L180.61,587.31 L180.87,587.57 L181.13,578.32 L181.40,583.45 L181.66,578.69 L181.92,576.67 L182.10,576.48 L182.27,575.32 L182.45,569.69 L182.62,565.88 L182.80,570.95 L182.97,565.63 L183.15,567.41 L183.33,563.37 L183.50,562.33 L183.76,562.12 L184.03,563.12 L184.29,561.96 L184.55,560.28 L184.81,552.06 L185.08,554.92 L185.34,556.49 L185.60,548.27 L185.87,551.17 L186.13,545.89 L186.39,551.33 L186.65,554.35 L186.92,553.63 L187.18,554.50 L187.44,551.74 L187.71,554.15 L187.97,552.45 L188.23,549.58 L188.41,551.55 L188.58,547.79 L188.76,544.00 L188.93,544.85 L189.11,547.83 L189.28,547.29 L189.46,545.61 L189.63,546.63 L189.81,544.80 L189.90,547.56 L189.98,551.50 L190.07,550.30 L190.16,544.20 L190.25,553.97 L190.34,551.14 L190.42,550.91 L190.51,549.61 L190.60,554.36 L190.77,557.93 L190.95,558.07 L191.12,559.00 L191.30,558.19 L191.47,558.44 L191.65,554.12 L191.82,555.88 L192.00,556.36 L192.18,560.73 L192.35,567.14 L192.53,568.77 L192.70,564.05 L192.88,564.09 L193.05,569.84 L193.23,570.55 L193.40,577.68 L193.58,575.88 L193.75,576.67 L193.93,574.32 L194.10,576.66 L194.28,577.85 L194.45,578.30 L194.63,585.88 L194.80,588.44 L194.98,589.44 L195.15,587.82 L195.33,589.42 L195.59,589.21 L195.86,588.42 L196.12,591.41 L196.38,593.24 L196.64,593.61 L196.91,597.18 L197.17,597.72 L197.43,602.69 L197.70,600.58 L197.96,600.00 L198.22,605.26 L198.48,601.99 L198.75,605.28 L199.01,608.93 L199.27,611.42 L199.54,612.01 L199.80,611.10 L200.06,613.33 L200.24,612.83 L200.41,616.70 L200.59,617.50 L200.76,615.68 L200.94,616.00 L201.11,617.60 L201.29,619.00 L201.46,618.28 L201.64,618.90 L201.99,618.96 L202.34,619.01 L202.69,619.06 L203.04,619.12 L203.39,619.17 L203.74,619.22 L204.09,619.28 L204.44,619.33 L204.79,619.38 L207.25,619.35 L209.70,619.31 L212.15,619.28 L214.61,619.24 L217.06,619.20 L219.52,619.17 L221.97,619.13 L224.42,619.10 L226.88,619.06" fill="none" stroke="#f2a12a" stroke-width="1.0" stroke-linejoin="miter" stroke-miterlimit="2"/>
<path d="M163.00,619.70 L163.43,618.99 L163.87,618.28 L164.31,617.08 L164.75,619.34 L165.19,617.19 L165.62,615.66 L166.06,612.23 L166.50,613.22 L166.94,613.33 L167.29,609.64 L167.64,610.64 L167.99,610.74 L168.34,609.29 L168.69,603.20 L169.04,603.44 L169.39,604.74 L169.74,605.36 L170.09,600.58 L170.36,598.82 L170.62,595.73 L170.88,595.87 L171.14,595.38 L171.41,590.40 L171.67,586.54 L171.93,590.41 L172.20,590.27 L172.46,584.64 L172.63,584.25 L172.81,581.78 L172.99,577.73 L173.16,580.23 L173.34,573.12 L173.51,571.85 L173.69,572.20 L173.86,573.20 L174.04,568.70 L174.21,563.03 L174.39,568.01 L174.56,561.92 L174.74,566.34 L174.91,565.21 L175.09,558.72 L175.26,562.04 L175.44,554.32 L175.61,557.55 L175.79,556.88 L175.96,559.26 L176.14,558.20 L176.31,555.55 L176.49,552.33 L176.67,548.74 L176.84,556.19 L177.02,552.97 L177.19,551.17 L177.45,553.59 L177.72,545.22 L177.98,553.28 L178.24,553.69 L178.51,553.09 L178.77,549.10 L179.03,544.00 L179.29,544.00 L179.56,546.39 L179.91,544.00 L180.26,544.00 L180.61,544.00 L180.96,546.78 L181.31,547.94 L181.66,544.00 L182.01,544.00 L182.36,548.53 L182.71,544.00 L182.89,544.00 L183.06,546.61 L183.24,547.71 L183.41,549.21 L183.59,551.95 L183.76,554.72 L183.94,552.91 L184.11,553.22 L184.29,552.77 L184.46,549.57 L184.64,559.38 L184.81,552.38 L184.99,561.33 L185.17,561.26 L185.34,558.13 L185.52,559.56 L185.69,564.75 L185.87,565.51 L186.04,571.20 L186.22,568.60 L186.39,570.95 L186.57,567.31 L186.74,575.40 L186.92,575.24 L187.09,571.87 L187.27,581.02 L187.44,578.26 L187.62,580.63 L187.79,578.77 L187.97,580.78 L188.14,588.50 L188.32,590.09 L188.50,591.40 L188.67,586.03 L188.85,592.95 L189.02,592.61 L189.20,591.93 L189.37,592.04 L189.55,597.54 L189.72,599.26 L189.90,595.45 L190.07,599.20 L190.25,602.97 L190.42,601.01 L190.60,603.76 L190.77,606.24 L190.95,607.73 L191.12,610.70 L191.30,607.10 L191.47,607.39 L191.65,610.39 L191.82,609.85 L192.00,616.37 L192.18,614.92 L192.35,616.87 L192.53,616.11 L192.70,614.17 L192.88,614.77 L193.05,618.13 L193.23,619.28 L193.40,618.64 L193.58,619.17 L193.75,619.70 L197.43,619.70 L201.11,619.70 L204.79,619.70 L208.47,619.70 L212.15,619.70 L215.83,619.70 L219.52,619.70 L223.20,619.70 L226.88,619.70" fill="none" stroke="#62b83a" stroke-width="1.0" stroke-linejoin="miter" stroke-miterlimit="2"/>
<path d="M158.26,619.70 L158.35,618.26 L158.44,616.19 L158.53,612.02 L158.61,614.46 L158.70,609.01 L158.79,607.58 L158.88,605.21 L158.96,603.71 L159.05,603.76 L159.14,600.88 L159.23,600.76 L159.32,598.73 L159.40,596.32 L159.49,590.94 L159.58,594.36 L159.67,591.34 L159.75,584.68 L159.84,584.64 L160.02,587.46 L160.19,589.67 L160.37,590.61 L160.54,587.04 L160.72,589.60 L160.89,585.00 L161.07,586.51 L161.24,586.40 L161.42,591.01 L161.51,592.53 L161.59,593.63 L161.68,593.19 L161.77,589.61 L161.86,587.55 L161.94,589.32 L162.03,590.70 L162.12,588.86 L162.21,587.83 L162.38,586.13 L162.56,584.97 L162.73,583.64 L162.91,582.09 L163.08,582.90 L163.26,586.78 L163.43,579.97 L163.61,583.93 L163.78,581.45 L163.87,579.45 L163.96,579.73 L164.05,575.09 L164.13,578.48 L164.22,576.65 L164.31,575.28 L164.40,574.73 L164.49,566.55 L164.57,568.70 L164.66,566.55 L164.75,567.52 L164.84,565.45 L164.92,558.27 L165.01,561.55 L165.10,562.84 L165.19,555.74 L165.27,555.84 L165.36,555.95 L165.45,549.58 L165.54,557.16 L165.62,551.96 L165.71,547.00 L165.80,545.34 L165.89,544.00 L165.97,550.86 L166.06,546.80 L166.15,544.00 L166.33,548.64 L166.50,549.30 L166.68,544.00 L166.85,548.01 L167.03,545.85 L167.20,553.01 L167.38,549.40 L167.55,555.05 L167.73,555.95 L167.82,558.89 L167.90,554.24 L167.99,553.11 L168.08,561.99 L168.17,557.66 L168.25,557.96 L168.34,562.45 L168.43,561.49 L168.52,560.73 L168.60,563.20 L168.69,561.54 L168.78,559.99 L168.87,555.49 L168.95,553.90 L169.04,557.36 L169.13,558.26 L169.22,554.00 L169.30,551.17 L169.48,549.16 L169.66,554.05 L169.83,552.57 L170.01,553.52 L170.18,547.24 L170.36,549.61 L170.53,554.44 L170.71,553.87 L170.88,549.58 L170.97,552.42 L171.06,552.61 L171.14,553.49 L171.23,560.75 L171.32,561.76 L171.41,558.28 L171.50,562.85 L171.58,565.83 L171.67,565.51 L171.93,569.10 L172.20,564.82 L172.46,572.56 L172.72,571.99 L172.99,575.66 L173.25,576.89 L173.51,574.69 L173.77,575.35 L174.04,581.45 L174.21,583.68 L174.39,586.14 L174.56,582.72 L174.74,588.17 L174.91,590.84 L175.09,584.54 L175.26,589.51 L175.44,587.38 L175.61,591.01 L175.79,592.46 L175.96,589.43 L176.14,593.44 L176.31,596.46 L176.49,598.28 L176.67,594.87 L176.84,594.91 L177.02,593.60 L177.19,597.39 L177.37,601.30 L177.54,598.27 L177.72,600.98 L177.89,600.90 L178.07,604.31 L178.24,604.21 L178.42,603.44 L178.59,601.58 L178.77,605.36 L179.03,608.83 L179.29,607.19 L179.56,606.06 L179.82,605.95 L180.08,611.66 L180.35,612.94 L180.61,608.91 L180.87,609.66 L181.13,613.33 L181.40,613.95 L181.66,616.86 L181.92,612.60 L182.19,616.05 L182.45,613.86 L182.71,615.90 L182.97,615.42 L183.24,619.23 L183.50,618.11 L183.76,618.28 L184.03,618.46 L184.29,618.64 L184.55,618.81 L184.81,618.99 L185.08,619.17 L185.34,619.35 L185.60,619.52 L185.87,619.70 L190.42,619.70 L194.98,619.70 L199.54,619.70 L204.09,619.70 L208.65,619.70 L213.21,619.70 L217.76,619.70 L222.32,619.70 L226.88,619.70" fill="none" stroke="#2a3f8e" stroke-width="1.0" stroke-linejoin="miter" stroke-miterlimit="2"/>
<line x1="148.8" y1="540.4" x2="148.8" y2="619.7" stroke="#231f20" stroke-width="0.9"/>
<line x1="148.8" y1="619.7" x2="228" y2="619.7" stroke="#231f20" stroke-width="0.9"/>
<line x1="146.4" y1="619.7" x2="148.8" y2="619.7" stroke="#231f20" stroke-width="0.8"/>
<text x="145" y="622.2" font-size="7" text-anchor="end" fill="#231f20" font-weight="normal" stroke="#231f20" stroke-width="0.15" >0</text>
<line x1="146.4" y1="604.5600000000001" x2="148.8" y2="604.5600000000001" stroke="#231f20" stroke-width="0.8"/>
<text x="145" y="607.0600000000001" font-size="7" text-anchor="end" fill="#231f20" font-weight="normal" stroke="#231f20" stroke-width="0.15" >20</text>
<line x1="146.4" y1="589.4200000000001" x2="148.8" y2="589.4200000000001" stroke="#231f20" stroke-width="0.8"/>
<text x="145" y="591.9200000000001" font-size="7" text-anchor="end" fill="#231f20" font-weight="normal" stroke="#231f20" stroke-width="0.15" >40</text>
<line x1="146.4" y1="574.28" x2="148.8" y2="574.28" stroke="#231f20" stroke-width="0.8"/>
<text x="145" y="576.78" font-size="7" text-anchor="end" fill="#231f20" font-weight="normal" stroke="#231f20" stroke-width="0.15" >60</text>
<line x1="146.4" y1="559.14" x2="148.8" y2="559.14" stroke="#231f20" stroke-width="0.8"/>
<text x="145" y="561.64" font-size="7" text-anchor="end" fill="#231f20" font-weight="normal" stroke="#231f20" stroke-width="0.15" >80</text>
<line x1="146.4" y1="544.0" x2="148.8" y2="544.0" stroke="#231f20" stroke-width="0.8"/>
<text x="145" y="546.5" font-size="7" text-anchor="end" fill="#231f20" font-weight="normal" stroke="#231f20" stroke-width="0.15" >100</text>
<line x1="147.60000000000002" y1="616.672" x2="148.8" y2="616.672" stroke="#555" stroke-width="0.4"/>
<line x1="147.60000000000002" y1="613.644" x2="148.8" y2="613.644" stroke="#555" stroke-width="0.4"/>
<line x1="147.60000000000002" y1="610.616" x2="148.8" y2="610.616" stroke="#555" stroke-width="0.4"/>
<line x1="147.60000000000002" y1="607.5880000000001" x2="148.8" y2="607.5880000000001" stroke="#555" stroke-width="0.4"/>
<line x1="147.60000000000002" y1="601.532" x2="148.8" y2="601.532" stroke="#555" stroke-width="0.4"/>
<line x1="147.60000000000002" y1="598.504" x2="148.8" y2="598.504" stroke="#555" stroke-width="0.4"/>
<line x1="147.60000000000002" y1="595.476" x2="148.8" y2="595.476" stroke="#555" stroke-width="0.4"/>
<line x1="147.60000000000002" y1="592.448" x2="148.8" y2="592.448" stroke="#555" stroke-width="0.4"/>
<line x1="147.60000000000002" y1="586.392" x2="148.8" y2="586.392" stroke="#555" stroke-width="0.4"/>
<line x1="147.60000000000002" y1="583.364" x2="148.8" y2="583.364" stroke="#555" stroke-width="0.4"/>
<line x1="147.60000000000002" y1="580.336" x2="148.8" y2="580.336" stroke="#555" stroke-width="0.4"/>
<line x1="147.60000000000002" y1="577.308" x2="148.8" y2="577.308" stroke="#555" stroke-width="0.4"/>
<line x1="147.60000000000002" y1="571.2520000000001" x2="148.8" y2="571.2520000000001" stroke="#555" stroke-width="0.4"/>
<line x1="147.60000000000002" y1="568.224" x2="148.8" y2="568.224" stroke="#555" stroke-width="0.4"/>
<line x1="147.60000000000002" y1="565.196" x2="148.8" y2="565.196" stroke="#555" stroke-width="0.4"/>
<line x1="147.60000000000002" y1="562.168" x2="148.8" y2="562.168" stroke="#555" stroke-width="0.4"/>
<line x1="147.60000000000002" y1="556.112" x2="148.8" y2="556.112" stroke="#555" stroke-width="0.4"/>
<line x1="147.60000000000002" y1="553.0840000000001" x2="148.8" y2="553.0840000000001" stroke="#555" stroke-width="0.4"/>
<line x1="147.60000000000002" y1="550.056" x2="148.8" y2="550.056" stroke="#555" stroke-width="0.4"/>
<line x1="147.60000000000002" y1="547.028" x2="148.8" y2="547.028" stroke="#555" stroke-width="0.4"/>
<line x1="152.8" y1="619.7" x2="152.8" y2="621.5" stroke="#555" stroke-width="0.4"/>
<line x1="158.0" y1="619.7" x2="158.0" y2="620.7" stroke="#555" stroke-width="0.4"/>
<line x1="163.20000000000002" y1="619.7" x2="163.20000000000002" y2="620.7" stroke="#555" stroke-width="0.4"/>
<line x1="168.4" y1="619.7" x2="168.4" y2="620.7" stroke="#555" stroke-width="0.4"/>
<line x1="173.60000000000002" y1="619.7" x2="173.60000000000002" y2="621.5" stroke="#555" stroke-width="0.4"/>
<line x1="178.8" y1="619.7" x2="178.8" y2="620.7" stroke="#555" stroke-width="0.4"/>
<line x1="184.0" y1="619.7" x2="184.0" y2="620.7" stroke="#555" stroke-width="0.4"/>
<line x1="189.20000000000002" y1="619.7" x2="189.20000000000002" y2="620.7" stroke="#555" stroke-width="0.4"/>
<line x1="194.4" y1="619.7" x2="194.4" y2="621.5" stroke="#555" stroke-width="0.4"/>
<line x1="199.60000000000002" y1="619.7" x2="199.60000000000002" y2="620.7" stroke="#555" stroke-width="0.4"/>
<line x1="204.8" y1="619.7" x2="204.8" y2="620.7" stroke="#555" stroke-width="0.4"/>
<line x1="210.0" y1="619.7" x2="210.0" y2="620.7" stroke="#555" stroke-width="0.4"/>
<line x1="215.20000000000002" y1="619.7" x2="215.20000000000002" y2="621.5" stroke="#555" stroke-width="0.4"/>
<line x1="220.40000000000003" y1="619.7" x2="220.40000000000003" y2="620.7" stroke="#555" stroke-width="0.4"/>
<line x1="225.60000000000002" y1="619.7" x2="225.60000000000002" y2="620.7" stroke="#555" stroke-width="0.4"/>
<text x="165" y="632.9" font-size="8.4" text-anchor="start" fill="#231f20" font-weight="normal" textLength="43.8" lengthAdjust="spacingAndGlyphs" stroke="#231f20" stroke-width="0.4" >pBtk − Ax 647-A</text>
<line x1="289.25" y1="573.3233333333334" x2="289.25" y2="565.3666666666667" stroke="#161616" stroke-width="1"/>
<line x1="284.75" y1="565.3666666666667" x2="293.75" y2="565.3666666666667" stroke="#161616" stroke-width="1"/>
<rect x="281.2" y="573.3233333333334" width="16.100000000000023" height="48.876666666666665" fill="#161616"/>
<line x1="314.79999999999995" y1="600.6033333333334" x2="314.79999999999995" y2="594.4653333333333" stroke="#f39200" stroke-width="1"/>
<line x1="310.29999999999995" y1="594.4653333333333" x2="319.29999999999995" y2="594.4653333333333" stroke="#f39200" stroke-width="1"/>
<rect x="306.7" y="600.6033333333334" width="16.19999999999999" height="21.596666666666692" fill="#f39200"/>
<line x1="340.25" y1="601.1716666666667" x2="340.25" y2="596.3976666666667" stroke="#3fa535" stroke-width="1"/>
<line x1="335.75" y1="596.3976666666667" x2="344.75" y2="596.3976666666667" stroke="#3fa535" stroke-width="1"/>
<rect x="332" y="601.1716666666667" width="16.5" height="21.028333333333308" fill="#3fa535"/>
<line x1="365.8" y1="617.085" x2="365.8" y2="615.38" stroke="#1c4f8a" stroke-width="1"/>
<line x1="361.3" y1="615.38" x2="370.3" y2="615.38" stroke="#1c4f8a" stroke-width="1"/>
<rect x="357.3" y="617.085" width="17.0" height="5.115000000000009" fill="#1c4f8a"/>
<line x1="276.3" y1="552.0" x2="276.3" y2="622.2" stroke="#231f20" stroke-width="1"/>
<line x1="276.3" y1="622.2" x2="378.5" y2="622.2" stroke="#231f20" stroke-width="1"/>
<line x1="273.7" y1="622.2" x2="276.3" y2="622.2" stroke="#231f20" stroke-width="0.9"/>
<text x="270.8" y="624.7" font-size="7.2" text-anchor="end" fill="#231f20" font-weight="normal" stroke="#231f20" stroke-width="0.15" >0</text>
<line x1="273.7" y1="599.4666666666667" x2="276.3" y2="599.4666666666667" stroke="#231f20" stroke-width="0.9"/>
<text x="270.8" y="601.9666666666667" font-size="7.2" text-anchor="end" fill="#231f20" font-weight="normal" stroke="#231f20" stroke-width="0.15" >2000</text>
<line x1="273.7" y1="576.7333333333333" x2="276.3" y2="576.7333333333333" stroke="#231f20" stroke-width="0.9"/>
<text x="270.8" y="579.2333333333333" font-size="7.2" text-anchor="end" fill="#231f20" font-weight="normal" stroke="#231f20" stroke-width="0.15" >4000</text>
<line x1="273.7" y1="554.0" x2="276.3" y2="554.0" stroke="#231f20" stroke-width="0.9"/>
<text x="270.8" y="556.5" font-size="7.2" text-anchor="end" fill="#231f20" font-weight="normal" stroke="#231f20" stroke-width="0.15" >6000</text>
<line x1="289.25" y1="622.2" x2="289.25" y2="624.7" stroke="#231f20" stroke-width="0.8"/>
<text x="289.25" y="633.8" font-size="7.6" text-anchor="middle" fill="#231f20" font-weight="normal" stroke="#231f20" stroke-width="0.15" >V</text>
<line x1="314.79999999999995" y1="622.2" x2="314.79999999999995" y2="624.7" stroke="#231f20" stroke-width="0.8"/>
<text x="314.79999999999995" y="633.8" font-size="7.6" text-anchor="middle" fill="#231f20" font-weight="normal" stroke="#231f20" stroke-width="0.15" >D</text>
<line x1="340.25" y1="622.2" x2="340.25" y2="624.7" stroke="#231f20" stroke-width="0.8"/>
<text x="340.25" y="633.8" font-size="7.6" text-anchor="middle" fill="#231f20" font-weight="normal" stroke="#231f20" stroke-width="0.15" >I</text>
<line x1="365.8" y1="622.2" x2="365.8" y2="624.7" stroke="#231f20" stroke-width="0.8"/>
<text x="365.8" y="633.8" font-size="7.6" text-anchor="middle" fill="#231f20" font-weight="normal" stroke="#231f20" stroke-width="0.15" >D + I</text>
<line x1="286.5" y1="541.4" x2="361.9" y2="541.4" stroke="#333" stroke-width="0.8"/>
<line x1="286.5" y1="539.6" x2="286.5" y2="543.1999999999999" stroke="#333" stroke-width="0.8"/>
<line x1="361.9" y1="539.6" x2="361.9" y2="543.1999999999999" stroke="#333" stroke-width="0.8"/>
<circle cx="321.70" cy="537.6" r="0.95" fill="#1e1e1e"/>
<circle cx="324.20" cy="537.6" r="0.95" fill="#1e1e1e"/>
<circle cx="326.70" cy="537.6" r="0.95" fill="#1e1e1e"/>
<line x1="286.5" y1="549.6" x2="340.4" y2="549.6" stroke="#333" stroke-width="0.8"/>
<line x1="286.5" y1="547.8000000000001" x2="286.5" y2="551.4" stroke="#333" stroke-width="0.8"/>
<line x1="340.4" y1="547.8000000000001" x2="340.4" y2="551.4" stroke="#333" stroke-width="0.8"/>
<circle cx="313.50" cy="545.8000000000001" r="0.95" fill="#1e1e1e"/>
<line x1="286.5" y1="558.2" x2="312.6" y2="558.2" stroke="#333" stroke-width="0.8"/>
<line x1="286.5" y1="556.4000000000001" x2="286.5" y2="560.0" stroke="#333" stroke-width="0.8"/>
<line x1="312.6" y1="556.4000000000001" x2="312.6" y2="560.0" stroke="#333" stroke-width="0.8"/>
<circle cx="300.00" cy="554.4000000000001" r="0.95" fill="#1e1e1e"/>
<line x1="314.4" y1="558.2" x2="361.9" y2="558.2" stroke="#333" stroke-width="0.8"/>
<line x1="314.4" y1="556.4000000000001" x2="314.4" y2="560.0" stroke="#333" stroke-width="0.8"/>
<line x1="361.9" y1="556.4000000000001" x2="361.9" y2="560.0" stroke="#333" stroke-width="0.8"/>
<circle cx="338.60" cy="554.4000000000001" r="0.95" fill="#1e1e1e"/>
<line x1="340.4" y1="567.6" x2="361.9" y2="567.6" stroke="#333" stroke-width="0.8"/>
<line x1="340.4" y1="565.8000000000001" x2="340.4" y2="569.4" stroke="#333" stroke-width="0.8"/>
<line x1="361.9" y1="565.8000000000001" x2="361.9" y2="569.4" stroke="#333" stroke-width="0.8"/>
<circle cx="351.30" cy="563.8000000000001" r="0.95" fill="#1e1e1e"/>
<text transform="translate(247.6,585) rotate(-90)" font-size="8" text-anchor="middle" fill="#231f20" stroke="#231f20" stroke-width="0.3" textLength="11" lengthAdjust="spacingAndGlyphs">MFI</text>
<line x1="423.35" y1="567.21375" x2="423.35" y2="562.95125" stroke="#161616" stroke-width="1"/>
<line x1="418.85" y1="562.95125" x2="427.85" y2="562.95125" stroke="#161616" stroke-width="1"/>
<rect x="415" y="567.21375" width="16.69999999999999" height="54.98625000000004" fill="#161616"/>
<line x1="449.05" y1="591.51" x2="449.05" y2="586.82125" stroke="#f39200" stroke-width="1"/>
<line x1="444.55" y1="586.82125" x2="453.55" y2="586.82125" stroke="#f39200" stroke-width="1"/>
<rect x="440.6" y="591.51" width="16.899999999999977" height="30.690000000000055" fill="#f39200"/>
<line x1="474.54999999999995" y1="593.64125" x2="474.54999999999995" y2="583.8375" stroke="#3fa535" stroke-width="1"/>
<line x1="470.04999999999995" y1="583.8375" x2="479.04999999999995" y2="583.8375" stroke="#3fa535" stroke-width="1"/>
<rect x="466.2" y="593.64125" width="16.69999999999999" height="28.558750000000032" fill="#3fa535"/>
<line x1="500.2" y1="617.51125" x2="500.2" y2="615.38" stroke="#1c4f8a" stroke-width="1"/>
<line x1="495.7" y1="615.38" x2="504.7" y2="615.38" stroke="#1c4f8a" stroke-width="1"/>
<rect x="491.7" y="617.51125" width="17.0" height="4.688750000000027" fill="#1c4f8a"/>
<line x1="413.7" y1="552.0" x2="413.7" y2="622.2" stroke="#231f20" stroke-width="1"/>
<line x1="413.7" y1="622.2" x2="514.6" y2="622.2" stroke="#231f20" stroke-width="1"/>
<line x1="411.09999999999997" y1="622.2" x2="413.7" y2="622.2" stroke="#231f20" stroke-width="0.9"/>
<text x="409.6" y="624.7" font-size="7.2" text-anchor="end" fill="#231f20" font-weight="normal" stroke="#231f20" stroke-width="0.15" >0</text>
<line x1="411.09999999999997" y1="605.1500000000001" x2="413.7" y2="605.1500000000001" stroke="#231f20" stroke-width="0.9"/>
<text x="409.6" y="607.6500000000001" font-size="7.2" text-anchor="end" fill="#231f20" font-weight="normal" stroke="#231f20" stroke-width="0.15" >2000</text>
<line x1="411.09999999999997" y1="588.1" x2="413.7" y2="588.1" stroke="#231f20" stroke-width="0.9"/>
<text x="409.6" y="590.6" font-size="7.2" text-anchor="end" fill="#231f20" font-weight="normal" stroke="#231f20" stroke-width="0.15" >4000</text>
<line x1="411.09999999999997" y1="571.05" x2="413.7" y2="571.05" stroke="#231f20" stroke-width="0.9"/>
<text x="409.6" y="573.55" font-size="7.2" text-anchor="end" fill="#231f20" font-weight="normal" stroke="#231f20" stroke-width="0.15" >6000</text>
<line x1="411.09999999999997" y1="554.0" x2="413.7" y2="554.0" stroke="#231f20" stroke-width="0.9"/>
<text x="409.6" y="556.5" font-size="7.2" text-anchor="end" fill="#231f20" font-weight="normal" stroke="#231f20" stroke-width="0.15" >8000</text>
<line x1="423.35" y1="622.2" x2="423.35" y2="624.7" stroke="#231f20" stroke-width="0.8"/>
<text x="423.35" y="633.8" font-size="7.6" text-anchor="middle" fill="#231f20" font-weight="normal" stroke="#231f20" stroke-width="0.15" >V</text>
<line x1="449.05" y1="622.2" x2="449.05" y2="624.7" stroke="#231f20" stroke-width="0.8"/>
<text x="449.05" y="633.8" font-size="7.6" text-anchor="middle" fill="#231f20" font-weight="normal" stroke="#231f20" stroke-width="0.15" >D</text>
<line x1="474.54999999999995" y1="622.2" x2="474.54999999999995" y2="624.7" stroke="#231f20" stroke-width="0.8"/>
<text x="474.54999999999995" y="633.8" font-size="7.6" text-anchor="middle" fill="#231f20" font-weight="normal" stroke="#231f20" stroke-width="0.15" >I</text>
<line x1="500.2" y1="622.2" x2="500.2" y2="624.7" stroke="#231f20" stroke-width="0.8"/>
<text x="500.2" y="633.8" font-size="7.6" text-anchor="middle" fill="#231f20" font-weight="normal" stroke="#231f20" stroke-width="0.15" >D + I</text>
<line x1="423.4" y1="539.3" x2="498.5" y2="539.3" stroke="#333" stroke-width="0.8"/>
<line x1="423.4" y1="537.5" x2="423.4" y2="541.0999999999999" stroke="#333" stroke-width="0.8"/>
<line x1="498.5" y1="537.5" x2="498.5" y2="541.0999999999999" stroke="#333" stroke-width="0.8"/>
<circle cx="457.20" cy="535.5" r="0.95" fill="#1e1e1e"/>
<circle cx="459.70" cy="535.5" r="0.95" fill="#1e1e1e"/>
<circle cx="462.20" cy="535.5" r="0.95" fill="#1e1e1e"/>
<line x1="423.4" y1="547.9" x2="474.2" y2="547.9" stroke="#333" stroke-width="0.8"/>
<line x1="423.4" y1="546.1" x2="423.4" y2="549.6999999999999" stroke="#333" stroke-width="0.8"/>
<line x1="474.2" y1="546.1" x2="474.2" y2="549.6999999999999" stroke="#333" stroke-width="0.8"/>
<circle cx="449.00" cy="544.1" r="0.95" fill="#1e1e1e"/>
<line x1="423.4" y1="557.3" x2="447.9" y2="557.3" stroke="#333" stroke-width="0.8"/>
<line x1="423.4" y1="555.5" x2="423.4" y2="559.0999999999999" stroke="#333" stroke-width="0.8"/>
<line x1="447.9" y1="555.5" x2="447.9" y2="559.0999999999999" stroke="#333" stroke-width="0.8"/>
<circle cx="434.40" cy="553.5" r="0.95" fill="#1e1e1e"/>
<line x1="452.2" y1="557.3" x2="498.5" y2="557.3" stroke="#333" stroke-width="0.8"/>
<line x1="452.2" y1="555.5" x2="452.2" y2="559.0999999999999" stroke="#333" stroke-width="0.8"/>
<line x1="498.5" y1="555.5" x2="498.5" y2="559.0999999999999" stroke="#333" stroke-width="0.8"/>
<circle cx="474.05" cy="553.5" r="0.95" fill="#1e1e1e"/>
<circle cx="476.55" cy="553.5" r="0.95" fill="#1e1e1e"/>
<line x1="476.4" y1="565.4" x2="498.5" y2="565.4" stroke="#333" stroke-width="0.8"/>
<line x1="476.4" y1="563.6" x2="476.4" y2="567.1999999999999" stroke="#333" stroke-width="0.8"/>
<line x1="498.5" y1="563.6" x2="498.5" y2="567.1999999999999" stroke="#333" stroke-width="0.8"/>
<text x="487.4" y="563.8" font-size="6" text-anchor="middle" fill="#333" font-weight="normal" stroke="#333" stroke-width="0.15" >n.s.</text>
<rect x="162.9" y="646" width="5.8" height="5.6" fill="#fff" stroke="#161616" stroke-width="1"/>
<text x="171.6" y="651" font-size="7" text-anchor="start" fill="#231f20" font-weight="normal" textLength="21.1" lengthAdjust="spacingAndGlyphs" stroke="#231f20" stroke-width="0.15" >Vehicle</text>
<rect x="206.8" y="646" width="5.8" height="5.6" fill="#fff" stroke="#f39200" stroke-width="1"/>
<text x="215.7" y="651" font-size="7" text-anchor="start" fill="#231f20" font-weight="normal" textLength="28.1" lengthAdjust="spacingAndGlyphs" stroke="#231f20" stroke-width="0.15" >Dasatinib</text>
<rect x="258.3" y="646" width="5.8" height="5.6" fill="#fff" stroke="#3fa535" stroke-width="1"/>
<text x="266.9" y="651" font-size="7" text-anchor="start" fill="#231f20" font-weight="normal" textLength="24" lengthAdjust="spacingAndGlyphs" stroke="#231f20" stroke-width="0.15" >Ibrutinib</text>
<rect x="305.3" y="646" width="5.8" height="5.6" fill="#fff" stroke="#1c4f8a" stroke-width="1"/>
<text x="313.7" y="651" font-size="7" text-anchor="start" fill="#231f20" font-weight="normal" textLength="60.9" lengthAdjust="spacingAndGlyphs" stroke="#231f20" stroke-width="0.15" >Dasatinib + Ibrutinib</text>
</svg>
</body></html>
